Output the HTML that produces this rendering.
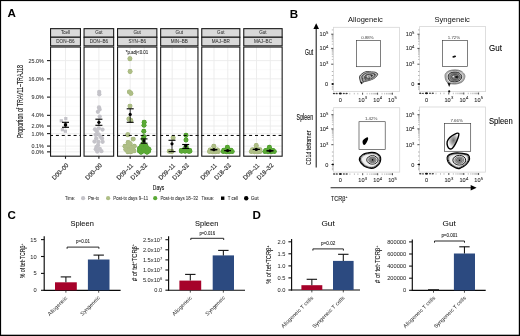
<!DOCTYPE html>
<html><head><meta charset="utf-8"><title>Figure</title>
<style>
html,body{margin:0;padding:0;background:#fff;width:520px;height:336px;overflow:hidden;}
svg{display:block;will-change:transform;font-family:"Liberation Sans",sans-serif;}
</style></head><body>
<svg width="520" height="336" viewBox="0 0 520 336">
<rect x="0" y="0" width="520" height="336" fill="#fff"/>
<rect x="0" y="0" width="520" height="1.1" fill="#000"/>
<rect x="0" y="0" width="1.1" height="336" fill="#000"/>
<rect x="518.8" y="0" width="1.2" height="336" fill="#000"/>
<rect x="0" y="334.7" width="520" height="1.3" fill="#000"/>
<text x="7.50" y="16.90" font-size="11.6" text-anchor="start" fill="#000" font-weight="bold" >A</text>
<text x="289.70" y="17.80" font-size="11.6" text-anchor="start" fill="#000" font-weight="bold" >B</text>
<text x="7.50" y="219.20" font-size="11.6" text-anchor="start" fill="#000" font-weight="bold" >C</text>
<text x="252.50" y="219.10" font-size="11.6" text-anchor="start" fill="#000" font-weight="bold" >D</text>
<rect x="50.0" y="47.05" width="31.00" height="109.15" fill="#fff"/>
<line x1="50.0" x2="81.0" y1="69.72" y2="69.72" stroke="#f4f4f4" stroke-width="0.5"/>
<line x1="50.0" x2="81.0" y1="87.97" y2="87.97" stroke="#f4f4f4" stroke-width="0.5"/>
<line x1="50.0" x2="81.0" y1="106.22" y2="106.22" stroke="#f4f4f4" stroke-width="0.5"/>
<line x1="50.0" x2="81.0" y1="120.70" y2="120.70" stroke="#f4f4f4" stroke-width="0.5"/>
<line x1="50.0" x2="81.0" y1="129.82" y2="129.82" stroke="#f4f4f4" stroke-width="0.5"/>
<line x1="50.0" x2="81.0" y1="139.84" y2="139.84" stroke="#f4f4f4" stroke-width="0.5"/>
<line x1="50.0" x2="81.0" y1="148.96" y2="148.96" stroke="#f4f4f4" stroke-width="0.5"/>
<line x1="50.0" x2="81.0" y1="60.60" y2="60.60" stroke="#ebebeb" stroke-width="0.9"/>
<line x1="50.0" x2="81.0" y1="78.85" y2="78.85" stroke="#ebebeb" stroke-width="0.9"/>
<line x1="50.0" x2="81.0" y1="97.10" y2="97.10" stroke="#ebebeb" stroke-width="0.9"/>
<line x1="50.0" x2="81.0" y1="115.35" y2="115.35" stroke="#ebebeb" stroke-width="0.9"/>
<line x1="50.0" x2="81.0" y1="126.04" y2="126.04" stroke="#ebebeb" stroke-width="0.9"/>
<line x1="50.0" x2="81.0" y1="133.60" y2="133.60" stroke="#ebebeb" stroke-width="0.9"/>
<line x1="50.0" x2="81.0" y1="146.08" y2="146.08" stroke="#ebebeb" stroke-width="0.9"/>
<line x1="50.0" x2="81.0" y1="151.85" y2="151.85" stroke="#ebebeb" stroke-width="0.9"/>
<line x1="65.5" x2="65.5" y1="47.05" y2="156.2" stroke="#ebebeb" stroke-width="0.9"/>
<line x1="50.0" x2="81.0" y1="135.45" y2="135.45" stroke="#000" stroke-width="1.0" stroke-dasharray="3.0 2.9"/>
<rect x="83.5" y="47.05" width="30.70" height="109.15" fill="#fff"/>
<line x1="83.5" x2="114.2" y1="69.72" y2="69.72" stroke="#f4f4f4" stroke-width="0.5"/>
<line x1="83.5" x2="114.2" y1="87.97" y2="87.97" stroke="#f4f4f4" stroke-width="0.5"/>
<line x1="83.5" x2="114.2" y1="106.22" y2="106.22" stroke="#f4f4f4" stroke-width="0.5"/>
<line x1="83.5" x2="114.2" y1="120.70" y2="120.70" stroke="#f4f4f4" stroke-width="0.5"/>
<line x1="83.5" x2="114.2" y1="129.82" y2="129.82" stroke="#f4f4f4" stroke-width="0.5"/>
<line x1="83.5" x2="114.2" y1="139.84" y2="139.84" stroke="#f4f4f4" stroke-width="0.5"/>
<line x1="83.5" x2="114.2" y1="148.96" y2="148.96" stroke="#f4f4f4" stroke-width="0.5"/>
<line x1="83.5" x2="114.2" y1="60.60" y2="60.60" stroke="#ebebeb" stroke-width="0.9"/>
<line x1="83.5" x2="114.2" y1="78.85" y2="78.85" stroke="#ebebeb" stroke-width="0.9"/>
<line x1="83.5" x2="114.2" y1="97.10" y2="97.10" stroke="#ebebeb" stroke-width="0.9"/>
<line x1="83.5" x2="114.2" y1="115.35" y2="115.35" stroke="#ebebeb" stroke-width="0.9"/>
<line x1="83.5" x2="114.2" y1="126.04" y2="126.04" stroke="#ebebeb" stroke-width="0.9"/>
<line x1="83.5" x2="114.2" y1="133.60" y2="133.60" stroke="#ebebeb" stroke-width="0.9"/>
<line x1="83.5" x2="114.2" y1="146.08" y2="146.08" stroke="#ebebeb" stroke-width="0.9"/>
<line x1="83.5" x2="114.2" y1="151.85" y2="151.85" stroke="#ebebeb" stroke-width="0.9"/>
<line x1="98.9" x2="98.9" y1="47.05" y2="156.2" stroke="#ebebeb" stroke-width="0.9"/>
<line x1="83.5" x2="114.2" y1="135.45" y2="135.45" stroke="#000" stroke-width="1.0" stroke-dasharray="3.0 2.9"/>
<rect x="117.0" y="47.05" width="40.40" height="109.15" fill="#fff"/>
<line x1="117.0" x2="157.4" y1="69.72" y2="69.72" stroke="#f4f4f4" stroke-width="0.5"/>
<line x1="117.0" x2="157.4" y1="87.97" y2="87.97" stroke="#f4f4f4" stroke-width="0.5"/>
<line x1="117.0" x2="157.4" y1="106.22" y2="106.22" stroke="#f4f4f4" stroke-width="0.5"/>
<line x1="117.0" x2="157.4" y1="120.70" y2="120.70" stroke="#f4f4f4" stroke-width="0.5"/>
<line x1="117.0" x2="157.4" y1="129.82" y2="129.82" stroke="#f4f4f4" stroke-width="0.5"/>
<line x1="117.0" x2="157.4" y1="139.84" y2="139.84" stroke="#f4f4f4" stroke-width="0.5"/>
<line x1="117.0" x2="157.4" y1="148.96" y2="148.96" stroke="#f4f4f4" stroke-width="0.5"/>
<line x1="117.0" x2="157.4" y1="60.60" y2="60.60" stroke="#ebebeb" stroke-width="0.9"/>
<line x1="117.0" x2="157.4" y1="78.85" y2="78.85" stroke="#ebebeb" stroke-width="0.9"/>
<line x1="117.0" x2="157.4" y1="97.10" y2="97.10" stroke="#ebebeb" stroke-width="0.9"/>
<line x1="117.0" x2="157.4" y1="115.35" y2="115.35" stroke="#ebebeb" stroke-width="0.9"/>
<line x1="117.0" x2="157.4" y1="126.04" y2="126.04" stroke="#ebebeb" stroke-width="0.9"/>
<line x1="117.0" x2="157.4" y1="133.60" y2="133.60" stroke="#ebebeb" stroke-width="0.9"/>
<line x1="117.0" x2="157.4" y1="146.08" y2="146.08" stroke="#ebebeb" stroke-width="0.9"/>
<line x1="117.0" x2="157.4" y1="151.85" y2="151.85" stroke="#ebebeb" stroke-width="0.9"/>
<line x1="130.2" x2="130.2" y1="47.05" y2="156.2" stroke="#ebebeb" stroke-width="0.9"/>
<line x1="144.2" x2="144.2" y1="47.05" y2="156.2" stroke="#ebebeb" stroke-width="0.9"/>
<rect x="160.1" y="47.05" width="38.40" height="109.15" fill="#fff"/>
<line x1="160.1" x2="198.5" y1="69.72" y2="69.72" stroke="#f4f4f4" stroke-width="0.5"/>
<line x1="160.1" x2="198.5" y1="87.97" y2="87.97" stroke="#f4f4f4" stroke-width="0.5"/>
<line x1="160.1" x2="198.5" y1="106.22" y2="106.22" stroke="#f4f4f4" stroke-width="0.5"/>
<line x1="160.1" x2="198.5" y1="120.70" y2="120.70" stroke="#f4f4f4" stroke-width="0.5"/>
<line x1="160.1" x2="198.5" y1="129.82" y2="129.82" stroke="#f4f4f4" stroke-width="0.5"/>
<line x1="160.1" x2="198.5" y1="139.84" y2="139.84" stroke="#f4f4f4" stroke-width="0.5"/>
<line x1="160.1" x2="198.5" y1="148.96" y2="148.96" stroke="#f4f4f4" stroke-width="0.5"/>
<line x1="160.1" x2="198.5" y1="60.60" y2="60.60" stroke="#ebebeb" stroke-width="0.9"/>
<line x1="160.1" x2="198.5" y1="78.85" y2="78.85" stroke="#ebebeb" stroke-width="0.9"/>
<line x1="160.1" x2="198.5" y1="97.10" y2="97.10" stroke="#ebebeb" stroke-width="0.9"/>
<line x1="160.1" x2="198.5" y1="115.35" y2="115.35" stroke="#ebebeb" stroke-width="0.9"/>
<line x1="160.1" x2="198.5" y1="126.04" y2="126.04" stroke="#ebebeb" stroke-width="0.9"/>
<line x1="160.1" x2="198.5" y1="133.60" y2="133.60" stroke="#ebebeb" stroke-width="0.9"/>
<line x1="160.1" x2="198.5" y1="146.08" y2="146.08" stroke="#ebebeb" stroke-width="0.9"/>
<line x1="160.1" x2="198.5" y1="151.85" y2="151.85" stroke="#ebebeb" stroke-width="0.9"/>
<line x1="172.2" x2="172.2" y1="47.05" y2="156.2" stroke="#ebebeb" stroke-width="0.9"/>
<line x1="185.8" x2="185.8" y1="47.05" y2="156.2" stroke="#ebebeb" stroke-width="0.9"/>
<rect x="201.2" y="47.05" width="39.20" height="109.15" fill="#fff"/>
<line x1="201.2" x2="240.4" y1="69.72" y2="69.72" stroke="#f4f4f4" stroke-width="0.5"/>
<line x1="201.2" x2="240.4" y1="87.97" y2="87.97" stroke="#f4f4f4" stroke-width="0.5"/>
<line x1="201.2" x2="240.4" y1="106.22" y2="106.22" stroke="#f4f4f4" stroke-width="0.5"/>
<line x1="201.2" x2="240.4" y1="120.70" y2="120.70" stroke="#f4f4f4" stroke-width="0.5"/>
<line x1="201.2" x2="240.4" y1="129.82" y2="129.82" stroke="#f4f4f4" stroke-width="0.5"/>
<line x1="201.2" x2="240.4" y1="139.84" y2="139.84" stroke="#f4f4f4" stroke-width="0.5"/>
<line x1="201.2" x2="240.4" y1="148.96" y2="148.96" stroke="#f4f4f4" stroke-width="0.5"/>
<line x1="201.2" x2="240.4" y1="60.60" y2="60.60" stroke="#ebebeb" stroke-width="0.9"/>
<line x1="201.2" x2="240.4" y1="78.85" y2="78.85" stroke="#ebebeb" stroke-width="0.9"/>
<line x1="201.2" x2="240.4" y1="97.10" y2="97.10" stroke="#ebebeb" stroke-width="0.9"/>
<line x1="201.2" x2="240.4" y1="115.35" y2="115.35" stroke="#ebebeb" stroke-width="0.9"/>
<line x1="201.2" x2="240.4" y1="126.04" y2="126.04" stroke="#ebebeb" stroke-width="0.9"/>
<line x1="201.2" x2="240.4" y1="133.60" y2="133.60" stroke="#ebebeb" stroke-width="0.9"/>
<line x1="201.2" x2="240.4" y1="146.08" y2="146.08" stroke="#ebebeb" stroke-width="0.9"/>
<line x1="201.2" x2="240.4" y1="151.85" y2="151.85" stroke="#ebebeb" stroke-width="0.9"/>
<line x1="214.0" x2="214.0" y1="47.05" y2="156.2" stroke="#ebebeb" stroke-width="0.9"/>
<line x1="227.8" x2="227.8" y1="47.05" y2="156.2" stroke="#ebebeb" stroke-width="0.9"/>
<rect x="243.2" y="47.05" width="39.50" height="109.15" fill="#fff"/>
<line x1="243.2" x2="282.7" y1="69.72" y2="69.72" stroke="#f4f4f4" stroke-width="0.5"/>
<line x1="243.2" x2="282.7" y1="87.97" y2="87.97" stroke="#f4f4f4" stroke-width="0.5"/>
<line x1="243.2" x2="282.7" y1="106.22" y2="106.22" stroke="#f4f4f4" stroke-width="0.5"/>
<line x1="243.2" x2="282.7" y1="120.70" y2="120.70" stroke="#f4f4f4" stroke-width="0.5"/>
<line x1="243.2" x2="282.7" y1="129.82" y2="129.82" stroke="#f4f4f4" stroke-width="0.5"/>
<line x1="243.2" x2="282.7" y1="139.84" y2="139.84" stroke="#f4f4f4" stroke-width="0.5"/>
<line x1="243.2" x2="282.7" y1="148.96" y2="148.96" stroke="#f4f4f4" stroke-width="0.5"/>
<line x1="243.2" x2="282.7" y1="60.60" y2="60.60" stroke="#ebebeb" stroke-width="0.9"/>
<line x1="243.2" x2="282.7" y1="78.85" y2="78.85" stroke="#ebebeb" stroke-width="0.9"/>
<line x1="243.2" x2="282.7" y1="97.10" y2="97.10" stroke="#ebebeb" stroke-width="0.9"/>
<line x1="243.2" x2="282.7" y1="115.35" y2="115.35" stroke="#ebebeb" stroke-width="0.9"/>
<line x1="243.2" x2="282.7" y1="126.04" y2="126.04" stroke="#ebebeb" stroke-width="0.9"/>
<line x1="243.2" x2="282.7" y1="133.60" y2="133.60" stroke="#ebebeb" stroke-width="0.9"/>
<line x1="243.2" x2="282.7" y1="146.08" y2="146.08" stroke="#ebebeb" stroke-width="0.9"/>
<line x1="243.2" x2="282.7" y1="151.85" y2="151.85" stroke="#ebebeb" stroke-width="0.9"/>
<line x1="256.5" x2="256.5" y1="47.05" y2="156.2" stroke="#ebebeb" stroke-width="0.9"/>
<line x1="270.3" x2="270.3" y1="47.05" y2="156.2" stroke="#ebebeb" stroke-width="0.9"/>
<rect x="64.20" y="117.00" width="3.2" height="3.2" fill="#c4c3c9"/>
<rect x="59.70" y="119.20" width="3.2" height="3.2" fill="#c4c3c9"/>
<rect x="60.80" y="128.10" width="3.2" height="3.2" fill="#c4c3c9"/>
<rect x="63.80" y="129.60" width="3.2" height="3.2" fill="#c4c3c9"/>
<circle cx="99.2" cy="92.0" r="2.15" fill="#c4c3c9"/>
<circle cx="99.3" cy="94.3" r="2.15" fill="#c4c3c9"/>
<circle cx="99.0" cy="107.4" r="2.15" fill="#c4c3c9"/>
<circle cx="99.6" cy="109.4" r="2.15" fill="#c4c3c9"/>
<circle cx="97.9" cy="111.8" r="2.15" fill="#c4c3c9"/>
<circle cx="99.7" cy="116.6" r="2.15" fill="#c4c3c9"/>
<circle cx="95.0" cy="129.3" r="2.15" fill="#c4c3c9"/>
<circle cx="98.8" cy="128.3" r="2.15" fill="#c4c3c9"/>
<circle cx="102.5" cy="129.6" r="2.15" fill="#c4c3c9"/>
<circle cx="96.8" cy="131.2" r="2.15" fill="#c4c3c9"/>
<circle cx="95.6" cy="134.8" r="2.15" fill="#c4c3c9"/>
<circle cx="98.6" cy="134.3" r="2.15" fill="#c4c3c9"/>
<circle cx="100.6" cy="136.8" r="2.15" fill="#c4c3c9"/>
<circle cx="102.0" cy="138.5" r="2.15" fill="#c4c3c9"/>
<circle cx="96.2" cy="138.5" r="2.15" fill="#c4c3c9"/>
<circle cx="94.5" cy="141.6" r="2.15" fill="#c4c3c9"/>
<circle cx="98.4" cy="142.0" r="2.15" fill="#c4c3c9"/>
<circle cx="102.6" cy="141.8" r="2.15" fill="#c4c3c9"/>
<circle cx="98.0" cy="145.2" r="2.15" fill="#c4c3c9"/>
<circle cx="95.8" cy="149.2" r="2.15" fill="#c4c3c9"/>
<circle cx="99.8" cy="148.8" r="2.15" fill="#c4c3c9"/>
<circle cx="101.4" cy="151.2" r="2.15" fill="#c4c3c9"/>
<circle cx="97.2" cy="151.5" r="2.15" fill="#c4c3c9"/>
<circle cx="96.5" cy="147.0" r="2.15" fill="#c4c3c9"/>
<circle cx="129.9" cy="58.7" r="2.45" fill="#9aad70"/>
<circle cx="130.1" cy="71.5" r="2.45" fill="#9aad70"/>
<circle cx="129.4" cy="91.9" r="2.45" fill="#9aad70"/>
<circle cx="130.9" cy="93.4" r="2.45" fill="#9aad70"/>
<circle cx="130.0" cy="106.1" r="2.45" fill="#9aad70"/>
<circle cx="128.9" cy="119.0" r="2.45" fill="#9aad70"/>
<circle cx="130.8" cy="120.5" r="2.45" fill="#9aad70"/>
<circle cx="127.8" cy="134.7" r="2.45" fill="#9aad70"/>
<circle cx="133.2" cy="139.1" r="2.45" fill="#9aad70"/>
<circle cx="128.1" cy="142.4" r="2.45" fill="#9aad70"/>
<circle cx="130.1" cy="143.6" r="2.45" fill="#9aad70"/>
<circle cx="125.0" cy="146.3" r="2.45" fill="#9aad70"/>
<circle cx="128.1" cy="145.9" r="2.45" fill="#9aad70"/>
<circle cx="134.3" cy="146.3" r="2.45" fill="#9aad70"/>
<circle cx="131.5" cy="147.5" r="2.45" fill="#9aad70"/>
<circle cx="125.8" cy="149.4" r="2.45" fill="#9aad70"/>
<circle cx="128.9" cy="150.2" r="2.45" fill="#9aad70"/>
<circle cx="132.4" cy="149.8" r="2.45" fill="#9aad70"/>
<circle cx="127.8" cy="151.7" r="2.45" fill="#9aad70"/>
<circle cx="130.9" cy="151.7" r="2.45" fill="#9aad70"/>
<circle cx="134.0" cy="150.9" r="2.45" fill="#9aad70"/>
<circle cx="129.9" cy="58.7" r="2.15" fill="#aebe86"/>
<circle cx="130.1" cy="71.5" r="2.15" fill="#aebe86"/>
<circle cx="129.4" cy="91.9" r="2.15" fill="#aebe86"/>
<circle cx="130.9" cy="93.4" r="2.15" fill="#aebe86"/>
<circle cx="130.0" cy="106.1" r="2.15" fill="#aebe86"/>
<circle cx="128.9" cy="119.0" r="2.15" fill="#aebe86"/>
<circle cx="130.8" cy="120.5" r="2.15" fill="#aebe86"/>
<circle cx="127.8" cy="134.7" r="2.15" fill="#aebe86"/>
<circle cx="133.2" cy="139.1" r="2.15" fill="#aebe86"/>
<circle cx="128.1" cy="142.4" r="2.15" fill="#aebe86"/>
<circle cx="130.1" cy="143.6" r="2.15" fill="#aebe86"/>
<circle cx="125.0" cy="146.3" r="2.15" fill="#aebe86"/>
<circle cx="128.1" cy="145.9" r="2.15" fill="#aebe86"/>
<circle cx="134.3" cy="146.3" r="2.15" fill="#aebe86"/>
<circle cx="131.5" cy="147.5" r="2.15" fill="#aebe86"/>
<circle cx="125.8" cy="149.4" r="2.15" fill="#aebe86"/>
<circle cx="128.9" cy="150.2" r="2.15" fill="#aebe86"/>
<circle cx="132.4" cy="149.8" r="2.15" fill="#aebe86"/>
<circle cx="127.8" cy="151.7" r="2.15" fill="#aebe86"/>
<circle cx="130.9" cy="151.7" r="2.15" fill="#aebe86"/>
<circle cx="134.0" cy="150.9" r="2.15" fill="#aebe86"/>
<circle cx="144.2" cy="122.2" r="2.45" fill="#3f8f22"/>
<circle cx="144.0" cy="125.2" r="2.45" fill="#3f8f22"/>
<circle cx="143.8" cy="131.3" r="2.45" fill="#3f8f22"/>
<circle cx="144.0" cy="136.6" r="2.45" fill="#3f8f22"/>
<circle cx="143.4" cy="139.0" r="2.45" fill="#3f8f22"/>
<circle cx="143.5" cy="143.5" r="2.45" fill="#3f8f22"/>
<circle cx="141.5" cy="146.0" r="2.45" fill="#3f8f22"/>
<circle cx="146.0" cy="146.0" r="2.45" fill="#3f8f22"/>
<circle cx="139.5" cy="148.5" r="2.45" fill="#3f8f22"/>
<circle cx="143.5" cy="148.5" r="2.45" fill="#3f8f22"/>
<circle cx="147.5" cy="148.5" r="2.45" fill="#3f8f22"/>
<circle cx="149.0" cy="149.5" r="2.45" fill="#3f8f22"/>
<circle cx="139.5" cy="151.0" r="2.45" fill="#3f8f22"/>
<circle cx="142.5" cy="151.2" r="2.45" fill="#3f8f22"/>
<circle cx="145.5" cy="151.2" r="2.45" fill="#3f8f22"/>
<circle cx="148.5" cy="151.2" r="2.45" fill="#3f8f22"/>
<circle cx="141.0" cy="152.3" r="2.45" fill="#3f8f22"/>
<circle cx="147.0" cy="152.3" r="2.45" fill="#3f8f22"/>
<circle cx="144.2" cy="122.2" r="2.15" fill="#5aa935"/>
<circle cx="144.0" cy="125.2" r="2.15" fill="#5aa935"/>
<circle cx="143.8" cy="131.3" r="2.15" fill="#5aa935"/>
<circle cx="144.0" cy="136.6" r="2.15" fill="#5aa935"/>
<circle cx="143.4" cy="139.0" r="2.15" fill="#5aa935"/>
<circle cx="143.5" cy="143.5" r="2.15" fill="#5aa935"/>
<circle cx="141.5" cy="146.0" r="2.15" fill="#5aa935"/>
<circle cx="146.0" cy="146.0" r="2.15" fill="#5aa935"/>
<circle cx="139.5" cy="148.5" r="2.15" fill="#5aa935"/>
<circle cx="143.5" cy="148.5" r="2.15" fill="#5aa935"/>
<circle cx="147.5" cy="148.5" r="2.15" fill="#5aa935"/>
<circle cx="149.0" cy="149.5" r="2.15" fill="#5aa935"/>
<circle cx="139.5" cy="151.0" r="2.15" fill="#5aa935"/>
<circle cx="142.5" cy="151.2" r="2.15" fill="#5aa935"/>
<circle cx="145.5" cy="151.2" r="2.15" fill="#5aa935"/>
<circle cx="148.5" cy="151.2" r="2.15" fill="#5aa935"/>
<circle cx="141.0" cy="152.3" r="2.15" fill="#5aa935"/>
<circle cx="147.0" cy="152.3" r="2.15" fill="#5aa935"/>
<circle cx="173.1" cy="137.7" r="2.45" fill="#9aad70"/>
<circle cx="169.3" cy="151.2" r="2.45" fill="#9aad70"/>
<circle cx="171.8" cy="151.5" r="2.45" fill="#9aad70"/>
<circle cx="173.1" cy="137.7" r="2.15" fill="#aebe86"/>
<circle cx="169.3" cy="151.2" r="2.15" fill="#aebe86"/>
<circle cx="171.8" cy="151.5" r="2.15" fill="#aebe86"/>
<circle cx="186.0" cy="135.3" r="2.45" fill="#3f8f22"/>
<circle cx="186.0" cy="140.0" r="2.45" fill="#3f8f22"/>
<circle cx="181.3" cy="150.4" r="2.45" fill="#3f8f22"/>
<circle cx="184.5" cy="149.6" r="2.45" fill="#3f8f22"/>
<circle cx="187.5" cy="149.6" r="2.45" fill="#3f8f22"/>
<circle cx="189.7" cy="150.4" r="2.45" fill="#3f8f22"/>
<circle cx="181.5" cy="151.2" r="2.45" fill="#3f8f22"/>
<circle cx="185.0" cy="151.2" r="2.45" fill="#3f8f22"/>
<circle cx="188.5" cy="151.2" r="2.45" fill="#3f8f22"/>
<circle cx="189.8" cy="151.2" r="2.45" fill="#3f8f22"/>
<circle cx="186.0" cy="146.5" r="2.45" fill="#3f8f22"/>
<circle cx="186.0" cy="135.3" r="2.15" fill="#5aa935"/>
<circle cx="186.0" cy="140.0" r="2.15" fill="#5aa935"/>
<circle cx="181.3" cy="150.4" r="2.15" fill="#5aa935"/>
<circle cx="184.5" cy="149.6" r="2.15" fill="#5aa935"/>
<circle cx="187.5" cy="149.6" r="2.15" fill="#5aa935"/>
<circle cx="189.7" cy="150.4" r="2.15" fill="#5aa935"/>
<circle cx="181.5" cy="151.2" r="2.15" fill="#5aa935"/>
<circle cx="185.0" cy="151.2" r="2.15" fill="#5aa935"/>
<circle cx="188.5" cy="151.2" r="2.15" fill="#5aa935"/>
<circle cx="189.8" cy="151.2" r="2.15" fill="#5aa935"/>
<circle cx="186.0" cy="146.5" r="2.15" fill="#5aa935"/>
<circle cx="213.8" cy="146.3" r="2.45" fill="#9aad70"/>
<circle cx="210.2" cy="150.0" r="2.45" fill="#9aad70"/>
<circle cx="213.8" cy="149.5" r="2.45" fill="#9aad70"/>
<circle cx="217.4" cy="150.0" r="2.45" fill="#9aad70"/>
<circle cx="209.5" cy="151.6" r="2.45" fill="#9aad70"/>
<circle cx="212.5" cy="151.8" r="2.45" fill="#9aad70"/>
<circle cx="215.5" cy="151.8" r="2.45" fill="#9aad70"/>
<circle cx="218.3" cy="151.6" r="2.45" fill="#9aad70"/>
<circle cx="213.8" cy="146.3" r="2.15" fill="#aebe86"/>
<circle cx="210.2" cy="150.0" r="2.15" fill="#aebe86"/>
<circle cx="213.8" cy="149.5" r="2.15" fill="#aebe86"/>
<circle cx="217.4" cy="150.0" r="2.15" fill="#aebe86"/>
<circle cx="209.5" cy="151.6" r="2.15" fill="#aebe86"/>
<circle cx="212.5" cy="151.8" r="2.15" fill="#aebe86"/>
<circle cx="215.5" cy="151.8" r="2.15" fill="#aebe86"/>
<circle cx="218.3" cy="151.6" r="2.15" fill="#aebe86"/>
<circle cx="227.4" cy="147.2" r="2.45" fill="#3f8f22"/>
<circle cx="223.8" cy="150.2" r="2.45" fill="#3f8f22"/>
<circle cx="227.4" cy="149.8" r="2.45" fill="#3f8f22"/>
<circle cx="231.0" cy="150.2" r="2.45" fill="#3f8f22"/>
<circle cx="223.3" cy="151.6" r="2.45" fill="#3f8f22"/>
<circle cx="226.3" cy="151.8" r="2.45" fill="#3f8f22"/>
<circle cx="229.3" cy="151.8" r="2.45" fill="#3f8f22"/>
<circle cx="232.2" cy="151.6" r="2.45" fill="#3f8f22"/>
<circle cx="227.4" cy="147.2" r="2.15" fill="#5aa935"/>
<circle cx="223.8" cy="150.2" r="2.15" fill="#5aa935"/>
<circle cx="227.4" cy="149.8" r="2.15" fill="#5aa935"/>
<circle cx="231.0" cy="150.2" r="2.15" fill="#5aa935"/>
<circle cx="223.3" cy="151.6" r="2.15" fill="#5aa935"/>
<circle cx="226.3" cy="151.8" r="2.15" fill="#5aa935"/>
<circle cx="229.3" cy="151.8" r="2.15" fill="#5aa935"/>
<circle cx="232.2" cy="151.6" r="2.15" fill="#5aa935"/>
<circle cx="256.2" cy="145.4" r="2.45" fill="#9aad70"/>
<circle cx="256.2" cy="147.6" r="2.45" fill="#9aad70"/>
<circle cx="252.4" cy="149.8" r="2.45" fill="#9aad70"/>
<circle cx="256.2" cy="149.4" r="2.45" fill="#9aad70"/>
<circle cx="259.9" cy="149.8" r="2.45" fill="#9aad70"/>
<circle cx="251.3" cy="151.6" r="2.45" fill="#9aad70"/>
<circle cx="254.5" cy="151.8" r="2.45" fill="#9aad70"/>
<circle cx="257.8" cy="151.8" r="2.45" fill="#9aad70"/>
<circle cx="260.0" cy="151.6" r="2.45" fill="#9aad70"/>
<circle cx="256.2" cy="145.4" r="2.15" fill="#aebe86"/>
<circle cx="256.2" cy="147.6" r="2.15" fill="#aebe86"/>
<circle cx="252.4" cy="149.8" r="2.15" fill="#aebe86"/>
<circle cx="256.2" cy="149.4" r="2.15" fill="#aebe86"/>
<circle cx="259.9" cy="149.8" r="2.15" fill="#aebe86"/>
<circle cx="251.3" cy="151.6" r="2.15" fill="#aebe86"/>
<circle cx="254.5" cy="151.8" r="2.15" fill="#aebe86"/>
<circle cx="257.8" cy="151.8" r="2.15" fill="#aebe86"/>
<circle cx="260.0" cy="151.6" r="2.15" fill="#aebe86"/>
<circle cx="269.4" cy="147.3" r="2.45" fill="#3f8f22"/>
<circle cx="265.8" cy="150.4" r="2.45" fill="#3f8f22"/>
<circle cx="269.4" cy="150.0" r="2.45" fill="#3f8f22"/>
<circle cx="273.0" cy="150.4" r="2.45" fill="#3f8f22"/>
<circle cx="264.9" cy="151.6" r="2.45" fill="#3f8f22"/>
<circle cx="268.0" cy="151.8" r="2.45" fill="#3f8f22"/>
<circle cx="271.2" cy="151.8" r="2.45" fill="#3f8f22"/>
<circle cx="274.3" cy="151.6" r="2.45" fill="#3f8f22"/>
<circle cx="269.4" cy="147.3" r="2.15" fill="#5aa935"/>
<circle cx="265.8" cy="150.4" r="2.15" fill="#5aa935"/>
<circle cx="269.4" cy="150.0" r="2.15" fill="#5aa935"/>
<circle cx="273.0" cy="150.4" r="2.15" fill="#5aa935"/>
<circle cx="264.9" cy="151.6" r="2.15" fill="#5aa935"/>
<circle cx="268.0" cy="151.8" r="2.15" fill="#5aa935"/>
<circle cx="271.2" cy="151.8" r="2.15" fill="#5aa935"/>
<circle cx="274.3" cy="151.6" r="2.15" fill="#5aa935"/>
<line x1="117.0" x2="157.4" y1="135.45" y2="135.45" stroke="#000" stroke-width="1.0" stroke-dasharray="3.0 2.9"/>
<line x1="160.1" x2="198.5" y1="135.45" y2="135.45" stroke="#000" stroke-width="1.0" stroke-dasharray="3.0 2.9"/>
<line x1="201.2" x2="240.4" y1="135.45" y2="135.45" stroke="#000" stroke-width="1.0" stroke-dasharray="3.0 2.9"/>
<line x1="243.2" x2="282.7" y1="135.45" y2="135.45" stroke="#000" stroke-width="1.0" stroke-dasharray="3.0 2.9"/>
<line x1="65.5" x2="65.5" y1="122.3" y2="127.3" stroke="#000" stroke-width="0.8"/>
<line x1="62.00" x2="69.00" y1="122.3" y2="122.3" stroke="#000" stroke-width="1.1"/>
<line x1="62.00" x2="69.00" y1="127.3" y2="127.3" stroke="#000" stroke-width="1.1"/>
<rect x="63.90" y="123.30" width="3.2" height="3.2" fill="#000"/>
<line x1="98.9" x2="98.9" y1="119.2" y2="125.3" stroke="#000" stroke-width="0.8"/>
<line x1="95.40" x2="102.40" y1="119.2" y2="119.2" stroke="#000" stroke-width="1.1"/>
<line x1="95.40" x2="102.40" y1="125.3" y2="125.3" stroke="#000" stroke-width="1.1"/>
<circle cx="98.9" cy="122.3" r="1.6" fill="#000"/>
<line x1="130.2" x2="130.2" y1="108.8" y2="122.3" stroke="#000" stroke-width="0.8"/>
<line x1="126.70" x2="133.70" y1="108.8" y2="108.8" stroke="#000" stroke-width="1.1"/>
<line x1="126.70" x2="133.70" y1="122.3" y2="122.3" stroke="#000" stroke-width="1.1"/>
<circle cx="130.2" cy="114.4" r="1.6" fill="#000"/>
<line x1="144.0" x2="144.0" y1="138.9" y2="143.2" stroke="#000" stroke-width="0.8"/>
<line x1="140.50" x2="147.50" y1="138.9" y2="138.9" stroke="#000" stroke-width="1.1"/>
<line x1="140.50" x2="147.50" y1="143.2" y2="143.2" stroke="#000" stroke-width="1.1"/>
<circle cx="144.0" cy="140.9" r="1.6" fill="#000"/>
<line x1="172.0" x2="172.0" y1="140.3" y2="151.6" stroke="#000" stroke-width="0.8"/>
<line x1="168.50" x2="175.50" y1="140.3" y2="140.3" stroke="#000" stroke-width="1.1"/>
<line x1="168.50" x2="175.50" y1="151.6" y2="151.6" stroke="#000" stroke-width="1.1"/>
<circle cx="172.0" cy="143.8" r="1.6" fill="#000"/>
<line x1="185.7" x2="185.7" y1="144.5" y2="148.4" stroke="#000" stroke-width="0.8"/>
<line x1="182.20" x2="189.20" y1="144.5" y2="144.5" stroke="#000" stroke-width="1.1"/>
<line x1="182.20" x2="189.20" y1="148.4" y2="148.4" stroke="#000" stroke-width="1.1"/>
<circle cx="185.7" cy="145.9" r="1.6" fill="#000"/>
<line x1="213.9" x2="213.9" y1="149.7" y2="149.7" stroke="#000" stroke-width="0.8"/>
<line x1="210.55" x2="217.25" y1="149.7" y2="149.7" stroke="#000" stroke-width="1.1"/>
<line x1="210.55" x2="217.25" y1="149.7" y2="149.7" stroke="#000" stroke-width="1.1"/>
<circle cx="213.9" cy="149.7" r="1.6" fill="#000"/>
<line x1="227.6" x2="227.6" y1="150.6" y2="150.6" stroke="#000" stroke-width="0.8"/>
<line x1="224.35" x2="230.85" y1="150.6" y2="150.6" stroke="#000" stroke-width="1.1"/>
<line x1="224.35" x2="230.85" y1="150.6" y2="150.6" stroke="#000" stroke-width="1.1"/>
<circle cx="227.6" cy="150.6" r="1.6" fill="#000"/>
<line x1="256.3" x2="256.3" y1="149.4" y2="149.4" stroke="#000" stroke-width="0.8"/>
<line x1="252.80" x2="259.80" y1="149.4" y2="149.4" stroke="#000" stroke-width="1.1"/>
<line x1="252.80" x2="259.80" y1="149.4" y2="149.4" stroke="#000" stroke-width="1.1"/>
<circle cx="256.3" cy="149.4" r="1.6" fill="#000"/>
<line x1="270.0" x2="270.0" y1="150.8" y2="150.8" stroke="#000" stroke-width="0.8"/>
<line x1="266.60" x2="273.40" y1="150.8" y2="150.8" stroke="#000" stroke-width="1.1"/>
<line x1="266.60" x2="273.40" y1="150.8" y2="150.8" stroke="#000" stroke-width="1.1"/>
<circle cx="270.0" cy="150.8" r="1.6" fill="#000"/>
<rect x="50.55" y="47.05" width="29.90" height="109.15" fill="none" stroke="#1a1a1a" stroke-width="1.1"/>
<rect x="50.55" y="28.65" width="29.90" height="8.6" fill="#d9d9d9" stroke="#1a1a1a" stroke-width="1.1"/>
<rect x="50.55" y="37.25" width="29.90" height="8.6" fill="#d9d9d9" stroke="#1a1a1a" stroke-width="1.1"/>
<text x="65.50" y="34.40" font-size="4.6" text-anchor="middle" fill="#2a2a2a" stroke="#2a2a2a" stroke-width="0.03" >Tcell</text>
<text x="65.50" y="43.30" font-size="4.6" text-anchor="middle" fill="#2a2a2a" stroke="#2a2a2a" stroke-width="0.03" >DON–B6</text>
<line x1="65.5" x2="65.5" y1="156.2" y2="158.80" stroke="#1a1a1a" stroke-width="1.1"/>
<rect x="84.05" y="47.05" width="29.60" height="109.15" fill="none" stroke="#1a1a1a" stroke-width="1.1"/>
<rect x="84.05" y="28.65" width="29.60" height="8.6" fill="#d9d9d9" stroke="#1a1a1a" stroke-width="1.1"/>
<rect x="84.05" y="37.25" width="29.60" height="8.6" fill="#d9d9d9" stroke="#1a1a1a" stroke-width="1.1"/>
<text x="98.85" y="34.40" font-size="4.6" text-anchor="middle" fill="#2a2a2a" stroke="#2a2a2a" stroke-width="0.03" >Gut</text>
<text x="98.85" y="43.30" font-size="4.6" text-anchor="middle" fill="#2a2a2a" stroke="#2a2a2a" stroke-width="0.03" >DON–B6</text>
<line x1="98.9" x2="98.9" y1="156.2" y2="158.80" stroke="#1a1a1a" stroke-width="1.1"/>
<rect x="117.55" y="47.05" width="39.30" height="109.15" fill="none" stroke="#1a1a1a" stroke-width="1.1"/>
<rect x="117.55" y="28.65" width="39.30" height="8.6" fill="#d9d9d9" stroke="#1a1a1a" stroke-width="1.1"/>
<rect x="117.55" y="37.25" width="39.30" height="8.6" fill="#d9d9d9" stroke="#1a1a1a" stroke-width="1.1"/>
<text x="137.20" y="34.40" font-size="4.6" text-anchor="middle" fill="#2a2a2a" stroke="#2a2a2a" stroke-width="0.03" >Gut</text>
<text x="137.20" y="43.30" font-size="4.6" text-anchor="middle" fill="#2a2a2a" stroke="#2a2a2a" stroke-width="0.03" >SYN–B6</text>
<line x1="130.2" x2="130.2" y1="156.2" y2="158.80" stroke="#1a1a1a" stroke-width="1.1"/>
<line x1="144.2" x2="144.2" y1="156.2" y2="158.80" stroke="#1a1a1a" stroke-width="1.1"/>
<rect x="160.65" y="47.05" width="37.30" height="109.15" fill="none" stroke="#1a1a1a" stroke-width="1.1"/>
<rect x="160.65" y="28.65" width="37.30" height="8.6" fill="#d9d9d9" stroke="#1a1a1a" stroke-width="1.1"/>
<rect x="160.65" y="37.25" width="37.30" height="8.6" fill="#d9d9d9" stroke="#1a1a1a" stroke-width="1.1"/>
<text x="179.30" y="34.40" font-size="4.6" text-anchor="middle" fill="#2a2a2a" stroke="#2a2a2a" stroke-width="0.03" >Gut</text>
<text x="179.30" y="43.30" font-size="4.6" text-anchor="middle" fill="#2a2a2a" stroke="#2a2a2a" stroke-width="0.03" >MIN–BB</text>
<line x1="172.2" x2="172.2" y1="156.2" y2="158.80" stroke="#1a1a1a" stroke-width="1.1"/>
<line x1="185.8" x2="185.8" y1="156.2" y2="158.80" stroke="#1a1a1a" stroke-width="1.1"/>
<rect x="201.75" y="47.05" width="38.10" height="109.15" fill="none" stroke="#1a1a1a" stroke-width="1.1"/>
<rect x="201.75" y="28.65" width="38.10" height="8.6" fill="#d9d9d9" stroke="#1a1a1a" stroke-width="1.1"/>
<rect x="201.75" y="37.25" width="38.10" height="8.6" fill="#d9d9d9" stroke="#1a1a1a" stroke-width="1.1"/>
<text x="220.80" y="34.40" font-size="4.6" text-anchor="middle" fill="#2a2a2a" stroke="#2a2a2a" stroke-width="0.03" >Gut</text>
<text x="220.80" y="43.30" font-size="4.6" text-anchor="middle" fill="#2a2a2a" stroke="#2a2a2a" stroke-width="0.03" >MAJ–BR</text>
<line x1="214.0" x2="214.0" y1="156.2" y2="158.80" stroke="#1a1a1a" stroke-width="1.1"/>
<line x1="227.8" x2="227.8" y1="156.2" y2="158.80" stroke="#1a1a1a" stroke-width="1.1"/>
<rect x="243.75" y="47.05" width="38.40" height="109.15" fill="none" stroke="#1a1a1a" stroke-width="1.1"/>
<rect x="243.75" y="28.65" width="38.40" height="8.6" fill="#d9d9d9" stroke="#1a1a1a" stroke-width="1.1"/>
<rect x="243.75" y="37.25" width="38.40" height="8.6" fill="#d9d9d9" stroke="#1a1a1a" stroke-width="1.1"/>
<text x="262.95" y="34.40" font-size="4.6" text-anchor="middle" fill="#2a2a2a" stroke="#2a2a2a" stroke-width="0.03" >Gut</text>
<text x="262.95" y="43.30" font-size="4.6" text-anchor="middle" fill="#2a2a2a" stroke="#2a2a2a" stroke-width="0.03" >MAJ–BC</text>
<line x1="256.5" x2="256.5" y1="156.2" y2="158.80" stroke="#1a1a1a" stroke-width="1.1"/>
<line x1="270.3" x2="270.3" y1="156.2" y2="158.80" stroke="#1a1a1a" stroke-width="1.1"/>
<text x="137.00" y="53.70" font-size="5.2" text-anchor="middle" fill="#1a1a1a" stroke="#1a1a1a" stroke-width="0.07" textLength="22.7" lengthAdjust="spacingAndGlyphs" >*p.adj&lt;0.01</text>
<line x1="47.0" x2="50" y1="60.60" y2="60.60" stroke="#1a1a1a" stroke-width="1.1"/>
<text x="43.90" y="62.50" font-size="5.4" text-anchor="end" fill="#333" stroke="#333" stroke-width="0.07" >25.0%</text>
<line x1="47.0" x2="50" y1="78.85" y2="78.85" stroke="#1a1a1a" stroke-width="1.1"/>
<text x="43.90" y="80.75" font-size="5.4" text-anchor="end" fill="#333" stroke="#333" stroke-width="0.07" >16.0%</text>
<line x1="47.0" x2="50" y1="97.10" y2="97.10" stroke="#1a1a1a" stroke-width="1.1"/>
<text x="43.90" y="99.00" font-size="5.4" text-anchor="end" fill="#333" stroke="#333" stroke-width="0.07" >9.0%</text>
<line x1="47.0" x2="50" y1="115.35" y2="115.35" stroke="#1a1a1a" stroke-width="1.1"/>
<text x="43.90" y="117.25" font-size="5.4" text-anchor="end" fill="#333" stroke="#333" stroke-width="0.07" >4.0%</text>
<line x1="47.0" x2="50" y1="126.04" y2="126.04" stroke="#1a1a1a" stroke-width="1.1"/>
<text x="43.90" y="127.94" font-size="5.4" text-anchor="end" fill="#333" stroke="#333" stroke-width="0.07" >2.0%</text>
<line x1="47.0" x2="50" y1="133.60" y2="133.60" stroke="#1a1a1a" stroke-width="1.1"/>
<text x="43.90" y="135.50" font-size="5.4" text-anchor="end" fill="#333" stroke="#333" stroke-width="0.07" >1.0%</text>
<line x1="47.0" x2="50" y1="146.08" y2="146.08" stroke="#1a1a1a" stroke-width="1.1"/>
<text x="43.90" y="147.98" font-size="5.4" text-anchor="end" fill="#333" stroke="#333" stroke-width="0.07" >0.1%</text>
<line x1="47.0" x2="50" y1="151.85" y2="151.85" stroke="#1a1a1a" stroke-width="1.1"/>
<text x="43.90" y="153.75" font-size="5.4" text-anchor="end" fill="#333" stroke="#333" stroke-width="0.07" >0.0%</text>
<text x="22.50" y="101.50" font-size="8.4" text-anchor="middle" fill="#111" stroke="#111" stroke-width="0.1" textLength="73.0" lengthAdjust="spacingAndGlyphs" transform="rotate(-90 22.50 101.50)" >Proportion of TRAV11–TRAJ18</text>
<text x="0" y="0" font-size="6.2" text-anchor="end" fill="#333" stroke="#333" stroke-width="0.16" textLength="20.5" lengthAdjust="spacingAndGlyphs" transform="translate(68.90 165.80) rotate(-45)">D00–00</text>
<text x="0" y="0" font-size="6.2" text-anchor="end" fill="#333" stroke="#333" stroke-width="0.16" textLength="20.5" lengthAdjust="spacingAndGlyphs" transform="translate(102.30 165.80) rotate(-45)">D00–00</text>
<text x="0" y="0" font-size="6.2" text-anchor="end" fill="#333" stroke="#333" stroke-width="0.16" textLength="20.5" lengthAdjust="spacingAndGlyphs" transform="translate(133.60 165.80) rotate(-45)">D09–11</text>
<text x="0" y="0" font-size="6.2" text-anchor="end" fill="#333" stroke="#333" stroke-width="0.16" textLength="20.5" lengthAdjust="spacingAndGlyphs" transform="translate(147.60 165.80) rotate(-45)">D18–32</text>
<text x="0" y="0" font-size="6.2" text-anchor="end" fill="#333" stroke="#333" stroke-width="0.16" textLength="20.5" lengthAdjust="spacingAndGlyphs" transform="translate(175.60 165.80) rotate(-45)">D09–11</text>
<text x="0" y="0" font-size="6.2" text-anchor="end" fill="#333" stroke="#333" stroke-width="0.16" textLength="20.5" lengthAdjust="spacingAndGlyphs" transform="translate(189.20 165.80) rotate(-45)">D18–32</text>
<text x="0" y="0" font-size="6.2" text-anchor="end" fill="#333" stroke="#333" stroke-width="0.16" textLength="20.5" lengthAdjust="spacingAndGlyphs" transform="translate(217.40 165.80) rotate(-45)">D09–11</text>
<text x="0" y="0" font-size="6.2" text-anchor="end" fill="#333" stroke="#333" stroke-width="0.16" textLength="20.5" lengthAdjust="spacingAndGlyphs" transform="translate(231.20 165.80) rotate(-45)">D18–32</text>
<text x="0" y="0" font-size="6.2" text-anchor="end" fill="#333" stroke="#333" stroke-width="0.16" textLength="20.5" lengthAdjust="spacingAndGlyphs" transform="translate(259.90 165.80) rotate(-45)">D09–11</text>
<text x="0" y="0" font-size="6.2" text-anchor="end" fill="#333" stroke="#333" stroke-width="0.16" textLength="20.5" lengthAdjust="spacingAndGlyphs" transform="translate(273.70 165.80) rotate(-45)">D18–32</text>
<text x="158.50" y="190.30" font-size="7.6" text-anchor="middle" fill="#111" stroke="#111" stroke-width="0.12" textLength="11.4" lengthAdjust="spacingAndGlyphs" >Days</text>
<text x="65.10" y="200.10" font-size="5.4" text-anchor="start" fill="#333" stroke="#333" stroke-width="0.07" textLength="10" lengthAdjust="spacingAndGlyphs" >Time:</text>
<circle cx="83.1" cy="198.2" r="2.1" fill="#c4c3c9"/>
<text x="88.00" y="200.10" font-size="5.4" text-anchor="start" fill="#333" stroke="#333" stroke-width="0.07" textLength="11" lengthAdjust="spacingAndGlyphs" >Pre-tx</text>
<circle cx="108.1" cy="198.2" r="2.1" fill="#aebe86"/>
<text x="113.30" y="200.10" font-size="5.4" text-anchor="start" fill="#333" stroke="#333" stroke-width="0.07" textLength="34.8" lengthAdjust="spacingAndGlyphs" >Post-tx days 9–11</text>
<circle cx="155.2" cy="198.2" r="2.1" fill="#5aa935"/>
<text x="160.40" y="200.10" font-size="5.4" text-anchor="start" fill="#333" stroke="#333" stroke-width="0.07" textLength="37.7" lengthAdjust="spacingAndGlyphs" >Post-tx days 18–32</text>
<text x="201.40" y="200.10" font-size="5.4" text-anchor="start" fill="#333" stroke="#333" stroke-width="0.07" textLength="12.8" lengthAdjust="spacingAndGlyphs" >Tissue:</text>
<rect x="221" y="196.50" width="3.4" height="3.4" fill="#000"/>
<text x="227.80" y="200.10" font-size="5.4" text-anchor="start" fill="#333" stroke="#333" stroke-width="0.07" textLength="10.3" lengthAdjust="spacingAndGlyphs" >T cell</text>
<circle cx="246.2" cy="198.2" r="2.2" fill="#000"/>
<text x="250.70" y="200.10" font-size="5.4" text-anchor="start" fill="#333" stroke="#333" stroke-width="0.07" textLength="8" lengthAdjust="spacingAndGlyphs" >Gut</text>
<line x1="316.2" x2="316.2" y1="28" y2="167.5" stroke="#222" stroke-width="1.1"/>
<path d="M316.2 23.2 L313.4 29 L319 29 Z" fill="#000"/>
<line x1="330.6" x2="471.5" y1="187.8" y2="187.8" stroke="#222" stroke-width="1.1"/>
<path d="M476.6 187.8 L470.7 185.1 L470.7 190.5 Z" fill="#000"/>
<text x="305.00" y="54.70" font-size="8.4" text-anchor="start" fill="#111" stroke="#111" stroke-width="0.14" textLength="8.1" lengthAdjust="spacingAndGlyphs" >Gut</text>
<text x="296.60" y="119.70" font-size="8.2" text-anchor="start" fill="#111" stroke="#111" stroke-width="0.14" textLength="16.5" lengthAdjust="spacingAndGlyphs" >Spleen</text>
<text x="311.30" y="147.80" font-size="7.0" text-anchor="middle" fill="#111" stroke="#111" stroke-width="0.1" textLength="34.4" lengthAdjust="spacingAndGlyphs" transform="rotate(-90 311.30 147.80)" >CD1d tetramer</text>
<text x="331.00" y="200.70" font-size="7.2" text-anchor="start" fill="#111" stroke="#111" stroke-width="0.1" textLength="16.3" lengthAdjust="spacingAndGlyphs" >TCRβ<tspan font-size="4.2" dy="-3.0">+</tspan></text>
<text x="365.50" y="22.30" font-size="7.8" text-anchor="middle" fill="#111" textLength="34.8" lengthAdjust="spacingAndGlyphs" >Allogeneic</text>
<text x="452.20" y="21.60" font-size="7.8" text-anchor="middle" fill="#111" textLength="35.3" lengthAdjust="spacingAndGlyphs" >Syngeneic</text>
<text x="489.00" y="50.70" font-size="8.5" text-anchor="start" fill="#000" stroke="#000" stroke-width="0.07" textLength="12.9" lengthAdjust="spacingAndGlyphs" >Gut</text>
<text x="489.00" y="124.00" font-size="8.5" text-anchor="start" fill="#000" stroke="#000" stroke-width="0.07" textLength="23.8" lengthAdjust="spacingAndGlyphs" >Spleen</text>
<rect x="333.5" y="27.3" width="66.00" height="64.30" fill="#fff" stroke="#d6d6d6" stroke-width="0.8"/>
<line x1="331.80" x2="333.20" y1="59.44" y2="59.44" stroke="#8a8a8a" stroke-width="0.55"/>
<line x1="331.80" x2="333.20" y1="56.66" y2="56.66" stroke="#8a8a8a" stroke-width="0.55"/>
<line x1="331.80" x2="333.20" y1="54.69" y2="54.69" stroke="#8a8a8a" stroke-width="0.55"/>
<line x1="331.80" x2="333.20" y1="53.16" y2="53.16" stroke="#8a8a8a" stroke-width="0.55"/>
<line x1="331.80" x2="333.20" y1="51.91" y2="51.91" stroke="#8a8a8a" stroke-width="0.55"/>
<line x1="331.80" x2="333.20" y1="50.85" y2="50.85" stroke="#8a8a8a" stroke-width="0.55"/>
<line x1="331.80" x2="333.20" y1="49.93" y2="49.93" stroke="#8a8a8a" stroke-width="0.55"/>
<line x1="331.80" x2="333.20" y1="49.12" y2="49.12" stroke="#8a8a8a" stroke-width="0.55"/>
<line x1="331.80" x2="333.20" y1="44.13" y2="44.13" stroke="#8a8a8a" stroke-width="0.55"/>
<line x1="331.80" x2="333.20" y1="41.62" y2="41.62" stroke="#8a8a8a" stroke-width="0.55"/>
<line x1="331.80" x2="333.20" y1="39.85" y2="39.85" stroke="#8a8a8a" stroke-width="0.55"/>
<line x1="331.80" x2="333.20" y1="38.47" y2="38.47" stroke="#8a8a8a" stroke-width="0.55"/>
<line x1="331.80" x2="333.20" y1="37.35" y2="37.35" stroke="#8a8a8a" stroke-width="0.55"/>
<line x1="331.80" x2="333.20" y1="36.40" y2="36.40" stroke="#8a8a8a" stroke-width="0.55"/>
<line x1="331.80" x2="333.20" y1="35.58" y2="35.58" stroke="#8a8a8a" stroke-width="0.55"/>
<line x1="331.80" x2="333.20" y1="34.85" y2="34.85" stroke="#8a8a8a" stroke-width="0.55"/>
<line x1="331.80" x2="333.20" y1="29.93" y2="29.93" stroke="#8a8a8a" stroke-width="0.55"/>
<line x1="331.80" x2="333.20" y1="71.50" y2="71.50" stroke="#777" stroke-width="0.55"/>
<line x1="331.80" x2="333.20" y1="75.50" y2="75.50" stroke="#777" stroke-width="0.55"/>
<line x1="331.80" x2="333.20" y1="80.00" y2="80.00" stroke="#777" stroke-width="0.55"/>
<line x1="331.80" x2="333.20" y1="86.30" y2="86.30" stroke="#777" stroke-width="0.55"/>
<line x1="331.80" x2="333.20" y1="87.80" y2="87.80" stroke="#777" stroke-width="0.55"/>
<line x1="331.80" x2="333.20" y1="89.20" y2="89.20" stroke="#777" stroke-width="0.55"/>
<line x1="331.20" x2="333.30" y1="34.20" y2="34.20" stroke="#222" stroke-width="0.8"/>
<text x="325.80" y="36.20" font-size="5.6" text-anchor="end" fill="#222" stroke="#222" stroke-width="0.07" >10</text>
<text x="325.90" y="34.10" font-size="4.2" text-anchor="start" fill="#222" stroke="#222" stroke-width="0.07" >5</text>
<line x1="331.20" x2="333.30" y1="48.40" y2="48.40" stroke="#222" stroke-width="0.8"/>
<text x="325.80" y="50.40" font-size="5.6" text-anchor="end" fill="#222" stroke="#222" stroke-width="0.07" >10</text>
<text x="325.90" y="48.30" font-size="4.2" text-anchor="start" fill="#222" stroke="#222" stroke-width="0.07" >4</text>
<line x1="331.20" x2="333.30" y1="64.20" y2="64.20" stroke="#222" stroke-width="0.8"/>
<text x="325.80" y="66.20" font-size="5.6" text-anchor="end" fill="#222" stroke="#222" stroke-width="0.07" >10</text>
<text x="325.90" y="64.10" font-size="4.2" text-anchor="start" fill="#222" stroke="#222" stroke-width="0.07" >3</text>
<line x1="331.20" x2="333.30" y1="84.00" y2="84.00" stroke="#222" stroke-width="0.8"/>
<circle cx="332.80" cy="84.00" r="0.9" fill="#000"/>
<text x="326.60" y="86.00" font-size="5.6" text-anchor="middle" fill="#222" stroke="#222" stroke-width="0.07" >0</text>
<line x1="367.12" x2="367.12" y1="92.90" y2="94.40" stroke="#8a8a8a" stroke-width="0.55"/>
<line x1="369.76" x2="369.76" y1="92.90" y2="94.40" stroke="#8a8a8a" stroke-width="0.55"/>
<line x1="371.63" x2="371.63" y1="92.90" y2="94.40" stroke="#8a8a8a" stroke-width="0.55"/>
<line x1="373.08" x2="373.08" y1="92.90" y2="94.40" stroke="#8a8a8a" stroke-width="0.55"/>
<line x1="374.27" x2="374.27" y1="92.90" y2="94.40" stroke="#8a8a8a" stroke-width="0.55"/>
<line x1="375.28" x2="375.28" y1="92.90" y2="94.40" stroke="#8a8a8a" stroke-width="0.55"/>
<line x1="376.15" x2="376.15" y1="92.90" y2="94.40" stroke="#8a8a8a" stroke-width="0.55"/>
<line x1="376.91" x2="376.91" y1="92.90" y2="94.40" stroke="#8a8a8a" stroke-width="0.55"/>
<line x1="382.06" x2="382.06" y1="92.90" y2="94.40" stroke="#8a8a8a" stroke-width="0.55"/>
<line x1="384.66" x2="384.66" y1="92.90" y2="94.40" stroke="#8a8a8a" stroke-width="0.55"/>
<line x1="386.51" x2="386.51" y1="92.90" y2="94.40" stroke="#8a8a8a" stroke-width="0.55"/>
<line x1="387.94" x2="387.94" y1="92.90" y2="94.40" stroke="#8a8a8a" stroke-width="0.55"/>
<line x1="389.12" x2="389.12" y1="92.90" y2="94.40" stroke="#8a8a8a" stroke-width="0.55"/>
<line x1="390.11" x2="390.11" y1="92.90" y2="94.40" stroke="#8a8a8a" stroke-width="0.55"/>
<line x1="390.97" x2="390.97" y1="92.90" y2="94.40" stroke="#8a8a8a" stroke-width="0.55"/>
<line x1="391.72" x2="391.72" y1="92.90" y2="94.40" stroke="#8a8a8a" stroke-width="0.55"/>
<line x1="345.80" x2="345.80" y1="92.90" y2="94.40" stroke="#888" stroke-width="0.55"/>
<line x1="349.80" x2="349.80" y1="92.90" y2="94.40" stroke="#888" stroke-width="0.55"/>
<line x1="354.30" x2="354.30" y1="92.90" y2="94.40" stroke="#888" stroke-width="0.55"/>
<line x1="357.80" x2="357.80" y1="92.90" y2="94.40" stroke="#888" stroke-width="0.55"/>
<line x1="337.30" x2="337.30" y1="92.90" y2="94.40" stroke="#888" stroke-width="0.55"/>
<line x1="334.80" x2="334.80" y1="92.90" y2="94.40" stroke="#888" stroke-width="0.55"/>
<line x1="362.60" x2="362.60" y1="92.70" y2="94.70" stroke="#222" stroke-width="0.8"/>
<text x="364.50" y="101.70" font-size="5.6" text-anchor="end" fill="#222" stroke="#222" stroke-width="0.07" >10</text>
<text x="364.70" y="99.20" font-size="4.2" text-anchor="start" fill="#222" stroke="#222" stroke-width="0.07" >3</text>
<line x1="377.60" x2="377.60" y1="92.70" y2="94.70" stroke="#222" stroke-width="0.8"/>
<text x="379.50" y="101.70" font-size="5.6" text-anchor="end" fill="#222" stroke="#222" stroke-width="0.07" >10</text>
<text x="379.70" y="99.20" font-size="4.2" text-anchor="start" fill="#222" stroke="#222" stroke-width="0.07" >4</text>
<line x1="392.40" x2="392.40" y1="92.70" y2="94.70" stroke="#222" stroke-width="0.8"/>
<text x="394.30" y="101.70" font-size="5.6" text-anchor="end" fill="#222" stroke="#222" stroke-width="0.07" >10</text>
<text x="394.50" y="99.20" font-size="4.2" text-anchor="start" fill="#222" stroke="#222" stroke-width="0.07" >5</text>
<text x="340.30" y="101.70" font-size="5.6" text-anchor="middle" fill="#222" stroke="#222" stroke-width="0.07" >0</text>
<ellipse cx="333.90" cy="93.50" rx="1.08" ry="0.68" fill="#111" opacity="0.85"/>
<ellipse cx="336.60" cy="93.50" rx="1.02" ry="0.64" fill="#111" opacity="0.8"/>
<ellipse cx="340.30" cy="93.50" rx="1.56" ry="0.98" fill="#111" opacity="1.0"/>
<ellipse cx="343.80" cy="93.50" rx="1.08" ry="0.68" fill="#111" opacity="0.8"/>
<ellipse cx="346.70" cy="93.50" rx="1.08" ry="0.68" fill="#111" opacity="0.8"/>
<rect x="419.6" y="26.6" width="66.00" height="65.00" fill="#fff" stroke="#d6d6d6" stroke-width="0.8"/>
<line x1="418.00" x2="419.40" y1="59.44" y2="59.44" stroke="#8a8a8a" stroke-width="0.55"/>
<line x1="418.00" x2="419.40" y1="56.66" y2="56.66" stroke="#8a8a8a" stroke-width="0.55"/>
<line x1="418.00" x2="419.40" y1="54.69" y2="54.69" stroke="#8a8a8a" stroke-width="0.55"/>
<line x1="418.00" x2="419.40" y1="53.16" y2="53.16" stroke="#8a8a8a" stroke-width="0.55"/>
<line x1="418.00" x2="419.40" y1="51.91" y2="51.91" stroke="#8a8a8a" stroke-width="0.55"/>
<line x1="418.00" x2="419.40" y1="50.85" y2="50.85" stroke="#8a8a8a" stroke-width="0.55"/>
<line x1="418.00" x2="419.40" y1="49.93" y2="49.93" stroke="#8a8a8a" stroke-width="0.55"/>
<line x1="418.00" x2="419.40" y1="49.12" y2="49.12" stroke="#8a8a8a" stroke-width="0.55"/>
<line x1="418.00" x2="419.40" y1="44.13" y2="44.13" stroke="#8a8a8a" stroke-width="0.55"/>
<line x1="418.00" x2="419.40" y1="41.62" y2="41.62" stroke="#8a8a8a" stroke-width="0.55"/>
<line x1="418.00" x2="419.40" y1="39.85" y2="39.85" stroke="#8a8a8a" stroke-width="0.55"/>
<line x1="418.00" x2="419.40" y1="38.47" y2="38.47" stroke="#8a8a8a" stroke-width="0.55"/>
<line x1="418.00" x2="419.40" y1="37.35" y2="37.35" stroke="#8a8a8a" stroke-width="0.55"/>
<line x1="418.00" x2="419.40" y1="36.40" y2="36.40" stroke="#8a8a8a" stroke-width="0.55"/>
<line x1="418.00" x2="419.40" y1="35.58" y2="35.58" stroke="#8a8a8a" stroke-width="0.55"/>
<line x1="418.00" x2="419.40" y1="34.85" y2="34.85" stroke="#8a8a8a" stroke-width="0.55"/>
<line x1="418.00" x2="419.40" y1="29.93" y2="29.93" stroke="#8a8a8a" stroke-width="0.55"/>
<line x1="418.00" x2="419.40" y1="71.50" y2="71.50" stroke="#777" stroke-width="0.55"/>
<line x1="418.00" x2="419.40" y1="75.50" y2="75.50" stroke="#777" stroke-width="0.55"/>
<line x1="418.00" x2="419.40" y1="80.00" y2="80.00" stroke="#777" stroke-width="0.55"/>
<line x1="418.00" x2="419.40" y1="86.30" y2="86.30" stroke="#777" stroke-width="0.55"/>
<line x1="418.00" x2="419.40" y1="87.80" y2="87.80" stroke="#777" stroke-width="0.55"/>
<line x1="418.00" x2="419.40" y1="89.20" y2="89.20" stroke="#777" stroke-width="0.55"/>
<line x1="417.40" x2="419.50" y1="34.20" y2="34.20" stroke="#222" stroke-width="0.8"/>
<text x="412.00" y="36.20" font-size="5.6" text-anchor="end" fill="#222" stroke="#222" stroke-width="0.07" >10</text>
<text x="412.10" y="34.10" font-size="4.2" text-anchor="start" fill="#222" stroke="#222" stroke-width="0.07" >5</text>
<line x1="417.40" x2="419.50" y1="48.40" y2="48.40" stroke="#222" stroke-width="0.8"/>
<text x="412.00" y="50.40" font-size="5.6" text-anchor="end" fill="#222" stroke="#222" stroke-width="0.07" >10</text>
<text x="412.10" y="48.30" font-size="4.2" text-anchor="start" fill="#222" stroke="#222" stroke-width="0.07" >4</text>
<line x1="417.40" x2="419.50" y1="64.20" y2="64.20" stroke="#222" stroke-width="0.8"/>
<text x="412.00" y="66.20" font-size="5.6" text-anchor="end" fill="#222" stroke="#222" stroke-width="0.07" >10</text>
<text x="412.10" y="64.10" font-size="4.2" text-anchor="start" fill="#222" stroke="#222" stroke-width="0.07" >3</text>
<line x1="417.40" x2="419.50" y1="84.00" y2="84.00" stroke="#222" stroke-width="0.8"/>
<circle cx="419.00" cy="84.00" r="0.9" fill="#000"/>
<text x="412.80" y="86.00" font-size="5.6" text-anchor="middle" fill="#222" stroke="#222" stroke-width="0.07" >0</text>
<line x1="453.32" x2="453.32" y1="92.70" y2="94.20" stroke="#8a8a8a" stroke-width="0.55"/>
<line x1="455.96" x2="455.96" y1="92.70" y2="94.20" stroke="#8a8a8a" stroke-width="0.55"/>
<line x1="457.83" x2="457.83" y1="92.70" y2="94.20" stroke="#8a8a8a" stroke-width="0.55"/>
<line x1="459.28" x2="459.28" y1="92.70" y2="94.20" stroke="#8a8a8a" stroke-width="0.55"/>
<line x1="460.47" x2="460.47" y1="92.70" y2="94.20" stroke="#8a8a8a" stroke-width="0.55"/>
<line x1="461.48" x2="461.48" y1="92.70" y2="94.20" stroke="#8a8a8a" stroke-width="0.55"/>
<line x1="462.35" x2="462.35" y1="92.70" y2="94.20" stroke="#8a8a8a" stroke-width="0.55"/>
<line x1="463.11" x2="463.11" y1="92.70" y2="94.20" stroke="#8a8a8a" stroke-width="0.55"/>
<line x1="468.26" x2="468.26" y1="92.70" y2="94.20" stroke="#8a8a8a" stroke-width="0.55"/>
<line x1="470.86" x2="470.86" y1="92.70" y2="94.20" stroke="#8a8a8a" stroke-width="0.55"/>
<line x1="472.71" x2="472.71" y1="92.70" y2="94.20" stroke="#8a8a8a" stroke-width="0.55"/>
<line x1="474.14" x2="474.14" y1="92.70" y2="94.20" stroke="#8a8a8a" stroke-width="0.55"/>
<line x1="475.32" x2="475.32" y1="92.70" y2="94.20" stroke="#8a8a8a" stroke-width="0.55"/>
<line x1="476.31" x2="476.31" y1="92.70" y2="94.20" stroke="#8a8a8a" stroke-width="0.55"/>
<line x1="477.17" x2="477.17" y1="92.70" y2="94.20" stroke="#8a8a8a" stroke-width="0.55"/>
<line x1="477.92" x2="477.92" y1="92.70" y2="94.20" stroke="#8a8a8a" stroke-width="0.55"/>
<line x1="432.00" x2="432.00" y1="92.70" y2="94.20" stroke="#888" stroke-width="0.55"/>
<line x1="436.00" x2="436.00" y1="92.70" y2="94.20" stroke="#888" stroke-width="0.55"/>
<line x1="440.50" x2="440.50" y1="92.70" y2="94.20" stroke="#888" stroke-width="0.55"/>
<line x1="444.00" x2="444.00" y1="92.70" y2="94.20" stroke="#888" stroke-width="0.55"/>
<line x1="423.50" x2="423.50" y1="92.70" y2="94.20" stroke="#888" stroke-width="0.55"/>
<line x1="421.00" x2="421.00" y1="92.70" y2="94.20" stroke="#888" stroke-width="0.55"/>
<line x1="448.80" x2="448.80" y1="92.50" y2="94.50" stroke="#222" stroke-width="0.8"/>
<text x="450.70" y="101.50" font-size="5.6" text-anchor="end" fill="#222" stroke="#222" stroke-width="0.07" >10</text>
<text x="450.90" y="99.00" font-size="4.2" text-anchor="start" fill="#222" stroke="#222" stroke-width="0.07" >3</text>
<line x1="463.80" x2="463.80" y1="92.50" y2="94.50" stroke="#222" stroke-width="0.8"/>
<text x="465.70" y="101.50" font-size="5.6" text-anchor="end" fill="#222" stroke="#222" stroke-width="0.07" >10</text>
<text x="465.90" y="99.00" font-size="4.2" text-anchor="start" fill="#222" stroke="#222" stroke-width="0.07" >4</text>
<line x1="478.60" x2="478.60" y1="92.50" y2="94.50" stroke="#222" stroke-width="0.8"/>
<text x="480.50" y="101.50" font-size="5.6" text-anchor="end" fill="#222" stroke="#222" stroke-width="0.07" >10</text>
<text x="480.70" y="99.00" font-size="4.2" text-anchor="start" fill="#222" stroke="#222" stroke-width="0.07" >5</text>
<text x="426.50" y="101.50" font-size="5.6" text-anchor="middle" fill="#222" stroke="#222" stroke-width="0.07" >0</text>
<ellipse cx="420.10" cy="93.30" rx="1.08" ry="0.68" fill="#111" opacity="0.85"/>
<ellipse cx="422.80" cy="93.30" rx="1.02" ry="0.64" fill="#111" opacity="0.8"/>
<ellipse cx="426.50" cy="93.30" rx="1.56" ry="0.98" fill="#111" opacity="1.0"/>
<ellipse cx="430.00" cy="93.30" rx="1.08" ry="0.68" fill="#111" opacity="0.8"/>
<ellipse cx="432.90" cy="93.30" rx="1.08" ry="0.68" fill="#111" opacity="0.8"/>
<rect x="333.6" y="107.7" width="66.10" height="64.40" fill="#fff" stroke="#d6d6d6" stroke-width="0.8"/>
<line x1="331.90" x2="333.30" y1="139.94" y2="139.94" stroke="#8a8a8a" stroke-width="0.55"/>
<line x1="331.90" x2="333.30" y1="137.16" y2="137.16" stroke="#8a8a8a" stroke-width="0.55"/>
<line x1="331.90" x2="333.30" y1="135.19" y2="135.19" stroke="#8a8a8a" stroke-width="0.55"/>
<line x1="331.90" x2="333.30" y1="133.66" y2="133.66" stroke="#8a8a8a" stroke-width="0.55"/>
<line x1="331.90" x2="333.30" y1="132.41" y2="132.41" stroke="#8a8a8a" stroke-width="0.55"/>
<line x1="331.90" x2="333.30" y1="131.35" y2="131.35" stroke="#8a8a8a" stroke-width="0.55"/>
<line x1="331.90" x2="333.30" y1="130.43" y2="130.43" stroke="#8a8a8a" stroke-width="0.55"/>
<line x1="331.90" x2="333.30" y1="129.62" y2="129.62" stroke="#8a8a8a" stroke-width="0.55"/>
<line x1="331.90" x2="333.30" y1="124.63" y2="124.63" stroke="#8a8a8a" stroke-width="0.55"/>
<line x1="331.90" x2="333.30" y1="122.12" y2="122.12" stroke="#8a8a8a" stroke-width="0.55"/>
<line x1="331.90" x2="333.30" y1="120.35" y2="120.35" stroke="#8a8a8a" stroke-width="0.55"/>
<line x1="331.90" x2="333.30" y1="118.97" y2="118.97" stroke="#8a8a8a" stroke-width="0.55"/>
<line x1="331.90" x2="333.30" y1="117.85" y2="117.85" stroke="#8a8a8a" stroke-width="0.55"/>
<line x1="331.90" x2="333.30" y1="116.90" y2="116.90" stroke="#8a8a8a" stroke-width="0.55"/>
<line x1="331.90" x2="333.30" y1="116.08" y2="116.08" stroke="#8a8a8a" stroke-width="0.55"/>
<line x1="331.90" x2="333.30" y1="115.35" y2="115.35" stroke="#8a8a8a" stroke-width="0.55"/>
<line x1="331.90" x2="333.30" y1="110.43" y2="110.43" stroke="#8a8a8a" stroke-width="0.55"/>
<line x1="331.90" x2="333.30" y1="152.00" y2="152.00" stroke="#777" stroke-width="0.55"/>
<line x1="331.90" x2="333.30" y1="156.00" y2="156.00" stroke="#777" stroke-width="0.55"/>
<line x1="331.90" x2="333.30" y1="160.50" y2="160.50" stroke="#777" stroke-width="0.55"/>
<line x1="331.90" x2="333.30" y1="166.80" y2="166.80" stroke="#777" stroke-width="0.55"/>
<line x1="331.90" x2="333.30" y1="168.30" y2="168.30" stroke="#777" stroke-width="0.55"/>
<line x1="331.90" x2="333.30" y1="169.70" y2="169.70" stroke="#777" stroke-width="0.55"/>
<line x1="331.30" x2="333.40" y1="114.70" y2="114.70" stroke="#222" stroke-width="0.8"/>
<text x="325.90" y="116.70" font-size="5.6" text-anchor="end" fill="#222" stroke="#222" stroke-width="0.07" >10</text>
<text x="326.00" y="114.60" font-size="4.2" text-anchor="start" fill="#222" stroke="#222" stroke-width="0.07" >5</text>
<line x1="331.30" x2="333.40" y1="128.90" y2="128.90" stroke="#222" stroke-width="0.8"/>
<text x="325.90" y="130.90" font-size="5.6" text-anchor="end" fill="#222" stroke="#222" stroke-width="0.07" >10</text>
<text x="326.00" y="128.80" font-size="4.2" text-anchor="start" fill="#222" stroke="#222" stroke-width="0.07" >4</text>
<line x1="331.30" x2="333.40" y1="144.70" y2="144.70" stroke="#222" stroke-width="0.8"/>
<text x="325.90" y="146.70" font-size="5.6" text-anchor="end" fill="#222" stroke="#222" stroke-width="0.07" >10</text>
<text x="326.00" y="144.60" font-size="4.2" text-anchor="start" fill="#222" stroke="#222" stroke-width="0.07" >3</text>
<line x1="331.30" x2="333.40" y1="164.50" y2="164.50" stroke="#222" stroke-width="0.8"/>
<circle cx="332.90" cy="164.50" r="0.9" fill="#000"/>
<text x="326.70" y="166.50" font-size="5.6" text-anchor="middle" fill="#222" stroke="#222" stroke-width="0.07" >0</text>
<line x1="367.22" x2="367.22" y1="173.40" y2="174.90" stroke="#8a8a8a" stroke-width="0.55"/>
<line x1="369.86" x2="369.86" y1="173.40" y2="174.90" stroke="#8a8a8a" stroke-width="0.55"/>
<line x1="371.73" x2="371.73" y1="173.40" y2="174.90" stroke="#8a8a8a" stroke-width="0.55"/>
<line x1="373.18" x2="373.18" y1="173.40" y2="174.90" stroke="#8a8a8a" stroke-width="0.55"/>
<line x1="374.37" x2="374.37" y1="173.40" y2="174.90" stroke="#8a8a8a" stroke-width="0.55"/>
<line x1="375.38" x2="375.38" y1="173.40" y2="174.90" stroke="#8a8a8a" stroke-width="0.55"/>
<line x1="376.25" x2="376.25" y1="173.40" y2="174.90" stroke="#8a8a8a" stroke-width="0.55"/>
<line x1="377.01" x2="377.01" y1="173.40" y2="174.90" stroke="#8a8a8a" stroke-width="0.55"/>
<line x1="382.16" x2="382.16" y1="173.40" y2="174.90" stroke="#8a8a8a" stroke-width="0.55"/>
<line x1="384.76" x2="384.76" y1="173.40" y2="174.90" stroke="#8a8a8a" stroke-width="0.55"/>
<line x1="386.61" x2="386.61" y1="173.40" y2="174.90" stroke="#8a8a8a" stroke-width="0.55"/>
<line x1="388.04" x2="388.04" y1="173.40" y2="174.90" stroke="#8a8a8a" stroke-width="0.55"/>
<line x1="389.22" x2="389.22" y1="173.40" y2="174.90" stroke="#8a8a8a" stroke-width="0.55"/>
<line x1="390.21" x2="390.21" y1="173.40" y2="174.90" stroke="#8a8a8a" stroke-width="0.55"/>
<line x1="391.07" x2="391.07" y1="173.40" y2="174.90" stroke="#8a8a8a" stroke-width="0.55"/>
<line x1="391.82" x2="391.82" y1="173.40" y2="174.90" stroke="#8a8a8a" stroke-width="0.55"/>
<line x1="345.90" x2="345.90" y1="173.40" y2="174.90" stroke="#888" stroke-width="0.55"/>
<line x1="349.90" x2="349.90" y1="173.40" y2="174.90" stroke="#888" stroke-width="0.55"/>
<line x1="354.40" x2="354.40" y1="173.40" y2="174.90" stroke="#888" stroke-width="0.55"/>
<line x1="357.90" x2="357.90" y1="173.40" y2="174.90" stroke="#888" stroke-width="0.55"/>
<line x1="337.40" x2="337.40" y1="173.40" y2="174.90" stroke="#888" stroke-width="0.55"/>
<line x1="334.90" x2="334.90" y1="173.40" y2="174.90" stroke="#888" stroke-width="0.55"/>
<line x1="362.70" x2="362.70" y1="173.20" y2="175.20" stroke="#222" stroke-width="0.8"/>
<text x="364.60" y="182.20" font-size="5.6" text-anchor="end" fill="#222" stroke="#222" stroke-width="0.07" >10</text>
<text x="364.80" y="179.70" font-size="4.2" text-anchor="start" fill="#222" stroke="#222" stroke-width="0.07" >3</text>
<line x1="377.70" x2="377.70" y1="173.20" y2="175.20" stroke="#222" stroke-width="0.8"/>
<text x="379.60" y="182.20" font-size="5.6" text-anchor="end" fill="#222" stroke="#222" stroke-width="0.07" >10</text>
<text x="379.80" y="179.70" font-size="4.2" text-anchor="start" fill="#222" stroke="#222" stroke-width="0.07" >4</text>
<line x1="392.50" x2="392.50" y1="173.20" y2="175.20" stroke="#222" stroke-width="0.8"/>
<text x="394.40" y="182.20" font-size="5.6" text-anchor="end" fill="#222" stroke="#222" stroke-width="0.07" >10</text>
<text x="394.60" y="179.70" font-size="4.2" text-anchor="start" fill="#222" stroke="#222" stroke-width="0.07" >5</text>
<text x="340.40" y="182.20" font-size="5.6" text-anchor="middle" fill="#222" stroke="#222" stroke-width="0.07" >0</text>
<ellipse cx="334.00" cy="174.00" rx="1.08" ry="0.68" fill="#111" opacity="0.85"/>
<ellipse cx="336.70" cy="174.00" rx="1.02" ry="0.64" fill="#111" opacity="0.8"/>
<ellipse cx="340.40" cy="174.00" rx="1.56" ry="0.98" fill="#111" opacity="1.0"/>
<ellipse cx="343.90" cy="174.00" rx="1.08" ry="0.68" fill="#111" opacity="0.8"/>
<ellipse cx="346.80" cy="174.00" rx="1.08" ry="0.68" fill="#111" opacity="0.8"/>
<rect x="419.4" y="107.0" width="66.20" height="65.10" fill="#fff" stroke="#d6d6d6" stroke-width="0.8"/>
<line x1="418.00" x2="419.40" y1="139.94" y2="139.94" stroke="#8a8a8a" stroke-width="0.55"/>
<line x1="418.00" x2="419.40" y1="137.16" y2="137.16" stroke="#8a8a8a" stroke-width="0.55"/>
<line x1="418.00" x2="419.40" y1="135.19" y2="135.19" stroke="#8a8a8a" stroke-width="0.55"/>
<line x1="418.00" x2="419.40" y1="133.66" y2="133.66" stroke="#8a8a8a" stroke-width="0.55"/>
<line x1="418.00" x2="419.40" y1="132.41" y2="132.41" stroke="#8a8a8a" stroke-width="0.55"/>
<line x1="418.00" x2="419.40" y1="131.35" y2="131.35" stroke="#8a8a8a" stroke-width="0.55"/>
<line x1="418.00" x2="419.40" y1="130.43" y2="130.43" stroke="#8a8a8a" stroke-width="0.55"/>
<line x1="418.00" x2="419.40" y1="129.62" y2="129.62" stroke="#8a8a8a" stroke-width="0.55"/>
<line x1="418.00" x2="419.40" y1="124.63" y2="124.63" stroke="#8a8a8a" stroke-width="0.55"/>
<line x1="418.00" x2="419.40" y1="122.12" y2="122.12" stroke="#8a8a8a" stroke-width="0.55"/>
<line x1="418.00" x2="419.40" y1="120.35" y2="120.35" stroke="#8a8a8a" stroke-width="0.55"/>
<line x1="418.00" x2="419.40" y1="118.97" y2="118.97" stroke="#8a8a8a" stroke-width="0.55"/>
<line x1="418.00" x2="419.40" y1="117.85" y2="117.85" stroke="#8a8a8a" stroke-width="0.55"/>
<line x1="418.00" x2="419.40" y1="116.90" y2="116.90" stroke="#8a8a8a" stroke-width="0.55"/>
<line x1="418.00" x2="419.40" y1="116.08" y2="116.08" stroke="#8a8a8a" stroke-width="0.55"/>
<line x1="418.00" x2="419.40" y1="115.35" y2="115.35" stroke="#8a8a8a" stroke-width="0.55"/>
<line x1="418.00" x2="419.40" y1="110.43" y2="110.43" stroke="#8a8a8a" stroke-width="0.55"/>
<line x1="418.00" x2="419.40" y1="152.00" y2="152.00" stroke="#777" stroke-width="0.55"/>
<line x1="418.00" x2="419.40" y1="156.00" y2="156.00" stroke="#777" stroke-width="0.55"/>
<line x1="418.00" x2="419.40" y1="160.50" y2="160.50" stroke="#777" stroke-width="0.55"/>
<line x1="418.00" x2="419.40" y1="166.80" y2="166.80" stroke="#777" stroke-width="0.55"/>
<line x1="418.00" x2="419.40" y1="168.30" y2="168.30" stroke="#777" stroke-width="0.55"/>
<line x1="418.00" x2="419.40" y1="169.70" y2="169.70" stroke="#777" stroke-width="0.55"/>
<line x1="417.40" x2="419.50" y1="114.70" y2="114.70" stroke="#222" stroke-width="0.8"/>
<text x="412.00" y="116.70" font-size="5.6" text-anchor="end" fill="#222" stroke="#222" stroke-width="0.07" >10</text>
<text x="412.10" y="114.60" font-size="4.2" text-anchor="start" fill="#222" stroke="#222" stroke-width="0.07" >5</text>
<line x1="417.40" x2="419.50" y1="128.90" y2="128.90" stroke="#222" stroke-width="0.8"/>
<text x="412.00" y="130.90" font-size="5.6" text-anchor="end" fill="#222" stroke="#222" stroke-width="0.07" >10</text>
<text x="412.10" y="128.80" font-size="4.2" text-anchor="start" fill="#222" stroke="#222" stroke-width="0.07" >4</text>
<line x1="417.40" x2="419.50" y1="144.70" y2="144.70" stroke="#222" stroke-width="0.8"/>
<text x="412.00" y="146.70" font-size="5.6" text-anchor="end" fill="#222" stroke="#222" stroke-width="0.07" >10</text>
<text x="412.10" y="144.60" font-size="4.2" text-anchor="start" fill="#222" stroke="#222" stroke-width="0.07" >3</text>
<line x1="417.40" x2="419.50" y1="164.50" y2="164.50" stroke="#222" stroke-width="0.8"/>
<circle cx="419.00" cy="164.50" r="0.9" fill="#000"/>
<text x="412.80" y="166.50" font-size="5.6" text-anchor="middle" fill="#222" stroke="#222" stroke-width="0.07" >0</text>
<line x1="453.32" x2="453.32" y1="173.20" y2="174.70" stroke="#8a8a8a" stroke-width="0.55"/>
<line x1="455.96" x2="455.96" y1="173.20" y2="174.70" stroke="#8a8a8a" stroke-width="0.55"/>
<line x1="457.83" x2="457.83" y1="173.20" y2="174.70" stroke="#8a8a8a" stroke-width="0.55"/>
<line x1="459.28" x2="459.28" y1="173.20" y2="174.70" stroke="#8a8a8a" stroke-width="0.55"/>
<line x1="460.47" x2="460.47" y1="173.20" y2="174.70" stroke="#8a8a8a" stroke-width="0.55"/>
<line x1="461.48" x2="461.48" y1="173.20" y2="174.70" stroke="#8a8a8a" stroke-width="0.55"/>
<line x1="462.35" x2="462.35" y1="173.20" y2="174.70" stroke="#8a8a8a" stroke-width="0.55"/>
<line x1="463.11" x2="463.11" y1="173.20" y2="174.70" stroke="#8a8a8a" stroke-width="0.55"/>
<line x1="468.26" x2="468.26" y1="173.20" y2="174.70" stroke="#8a8a8a" stroke-width="0.55"/>
<line x1="470.86" x2="470.86" y1="173.20" y2="174.70" stroke="#8a8a8a" stroke-width="0.55"/>
<line x1="472.71" x2="472.71" y1="173.20" y2="174.70" stroke="#8a8a8a" stroke-width="0.55"/>
<line x1="474.14" x2="474.14" y1="173.20" y2="174.70" stroke="#8a8a8a" stroke-width="0.55"/>
<line x1="475.32" x2="475.32" y1="173.20" y2="174.70" stroke="#8a8a8a" stroke-width="0.55"/>
<line x1="476.31" x2="476.31" y1="173.20" y2="174.70" stroke="#8a8a8a" stroke-width="0.55"/>
<line x1="477.17" x2="477.17" y1="173.20" y2="174.70" stroke="#8a8a8a" stroke-width="0.55"/>
<line x1="477.92" x2="477.92" y1="173.20" y2="174.70" stroke="#8a8a8a" stroke-width="0.55"/>
<line x1="432.00" x2="432.00" y1="173.20" y2="174.70" stroke="#888" stroke-width="0.55"/>
<line x1="436.00" x2="436.00" y1="173.20" y2="174.70" stroke="#888" stroke-width="0.55"/>
<line x1="440.50" x2="440.50" y1="173.20" y2="174.70" stroke="#888" stroke-width="0.55"/>
<line x1="444.00" x2="444.00" y1="173.20" y2="174.70" stroke="#888" stroke-width="0.55"/>
<line x1="423.50" x2="423.50" y1="173.20" y2="174.70" stroke="#888" stroke-width="0.55"/>
<line x1="421.00" x2="421.00" y1="173.20" y2="174.70" stroke="#888" stroke-width="0.55"/>
<line x1="448.80" x2="448.80" y1="173.00" y2="175.00" stroke="#222" stroke-width="0.8"/>
<text x="450.70" y="182.00" font-size="5.6" text-anchor="end" fill="#222" stroke="#222" stroke-width="0.07" >10</text>
<text x="450.90" y="179.50" font-size="4.2" text-anchor="start" fill="#222" stroke="#222" stroke-width="0.07" >3</text>
<line x1="463.80" x2="463.80" y1="173.00" y2="175.00" stroke="#222" stroke-width="0.8"/>
<text x="465.70" y="182.00" font-size="5.6" text-anchor="end" fill="#222" stroke="#222" stroke-width="0.07" >10</text>
<text x="465.90" y="179.50" font-size="4.2" text-anchor="start" fill="#222" stroke="#222" stroke-width="0.07" >4</text>
<line x1="478.60" x2="478.60" y1="173.00" y2="175.00" stroke="#222" stroke-width="0.8"/>
<text x="480.50" y="182.00" font-size="5.6" text-anchor="end" fill="#222" stroke="#222" stroke-width="0.07" >10</text>
<text x="480.70" y="179.50" font-size="4.2" text-anchor="start" fill="#222" stroke="#222" stroke-width="0.07" >5</text>
<text x="426.50" y="182.00" font-size="5.6" text-anchor="middle" fill="#222" stroke="#222" stroke-width="0.07" >0</text>
<ellipse cx="420.10" cy="173.80" rx="1.08" ry="0.68" fill="#111" opacity="0.85"/>
<ellipse cx="422.80" cy="173.80" rx="1.02" ry="0.64" fill="#111" opacity="0.8"/>
<ellipse cx="426.50" cy="173.80" rx="1.56" ry="0.98" fill="#111" opacity="1.0"/>
<ellipse cx="430.00" cy="173.80" rx="1.08" ry="0.68" fill="#111" opacity="0.8"/>
<ellipse cx="432.90" cy="173.80" rx="1.08" ry="0.68" fill="#111" opacity="0.8"/>
<rect x="356.6" y="40.5" width="23.80" height="26.20" fill="none" stroke="#3a3a3a" stroke-width="0.65"/>
<text x="367.50" y="38.90" font-size="4.4" text-anchor="middle" fill="#3a3a3a" textLength="12.4" lengthAdjust="spacingAndGlyphs" >0.88%</text>
<rect x="442.5" y="40.4" width="25.00" height="26.00" fill="none" stroke="#3a3a3a" stroke-width="0.65"/>
<text x="454.00" y="38.80" font-size="4.4" text-anchor="middle" fill="#3a3a3a" textLength="12.4" lengthAdjust="spacingAndGlyphs" >1.72%</text>
<rect x="359.0" y="121.7" width="26.20" height="27.80" fill="none" stroke="#3a3a3a" stroke-width="0.65"/>
<text x="371.10" y="120.10" font-size="4.4" text-anchor="middle" fill="#3a3a3a" textLength="12.4" lengthAdjust="spacingAndGlyphs" >1.42%</text>
<rect x="444.5" y="123.6" width="26.20" height="27.70" fill="none" stroke="#3a3a3a" stroke-width="0.65"/>
<text x="456.60" y="122.00" font-size="4.4" text-anchor="middle" fill="#3a3a3a" textLength="12.4" lengthAdjust="spacingAndGlyphs" >7.66%</text>
<path d="M359.64 76.30 C359.94 75.28 361.02 74.57 361.80 73.90 C362.58 73.23 363.42 72.70 364.30 72.30 C365.18 71.90 365.92 71.57 367.10 71.50 C368.28 71.43 370.08 71.78 371.40 71.90 C372.72 72.02 373.97 71.88 375.00 72.20 C376.03 72.52 377.33 73.13 377.60 73.80 C377.87 74.47 377.23 75.40 376.60 76.20 C375.97 77.00 375.02 77.90 373.80 78.60 C372.58 79.30 370.88 79.88 369.30 80.40 C367.72 80.92 365.62 81.20 364.30 81.70 C362.98 82.20 362.12 83.68 361.40 83.40 C360.68 83.12 360.29 81.18 360.00 80.00 C359.71 78.82 359.34 77.32 359.64 76.30 Z" fill="#a2a2a2" stroke="#1a1a1a" stroke-width="0.8"/>
<path d="M360.85 76.34 C361.11 75.47 362.04 74.85 362.71 74.28 C363.38 73.70 364.10 73.25 364.86 72.90 C365.62 72.56 366.25 72.27 367.27 72.21 C368.29 72.16 369.83 72.46 370.97 72.56 C372.10 72.66 373.17 72.54 374.06 72.82 C374.95 73.09 376.07 73.62 376.30 74.19 C376.53 74.77 375.98 75.57 375.44 76.26 C374.89 76.94 374.08 77.72 373.03 78.32 C371.98 78.92 370.52 79.42 369.16 79.87 C367.80 80.31 365.99 80.56 364.86 80.99 C363.73 81.42 362.98 82.69 362.37 82.45 C361.75 82.20 361.41 80.54 361.16 79.52 C360.91 78.51 360.59 77.22 360.85 76.34 Z" fill="none" stroke="#f0f0f0" stroke-width="0.45"/>
<path d="M361.89 76.38 C362.11 75.63 362.92 75.10 363.49 74.60 C364.06 74.11 364.69 73.71 365.34 73.42 C365.99 73.12 366.54 72.88 367.41 72.83 C368.29 72.78 369.62 73.04 370.59 73.12 C371.57 73.21 372.49 73.11 373.26 73.34 C374.02 73.58 374.98 74.03 375.18 74.53 C375.38 75.02 374.91 75.71 374.44 76.30 C373.97 76.90 373.27 77.56 372.37 78.08 C371.47 78.60 370.21 79.03 369.04 79.41 C367.87 79.79 366.31 80.00 365.34 80.37 C364.37 80.74 363.72 81.84 363.19 81.63 C362.66 81.42 362.38 79.99 362.16 79.12 C361.94 78.24 361.67 77.13 361.89 76.38 Z" fill="#8e8e8e" stroke="#1a1a1a" stroke-width="0.6"/>
<path d="M363.45 76.43 C363.62 75.86 364.23 75.46 364.66 75.09 C365.09 74.71 365.57 74.42 366.06 74.19 C366.55 73.97 366.97 73.78 367.63 73.74 C368.29 73.71 369.30 73.90 370.04 73.97 C370.77 74.03 371.47 73.96 372.05 74.14 C372.63 74.31 373.36 74.66 373.51 75.03 C373.66 75.41 373.30 75.93 372.95 76.38 C372.59 76.82 372.06 77.33 371.38 77.72 C370.70 78.11 369.75 78.44 368.86 78.73 C367.97 79.02 366.80 79.18 366.06 79.46 C365.32 79.74 364.84 80.57 364.44 80.41 C364.03 80.25 363.82 79.17 363.65 78.50 C363.49 77.84 363.28 77.00 363.45 76.43 Z" fill="none" stroke="#e0e0e0" stroke-width="0.45"/>
<path d="M364.66 76.47 C364.79 76.05 365.24 75.75 365.57 75.47 C365.90 75.19 366.25 74.96 366.62 74.79 C366.99 74.63 367.30 74.49 367.80 74.46 C368.29 74.43 369.05 74.58 369.60 74.63 C370.15 74.68 370.68 74.62 371.11 74.75 C371.55 74.88 372.09 75.14 372.21 75.42 C372.32 75.70 372.05 76.10 371.79 76.43 C371.52 76.77 371.12 77.15 370.61 77.44 C370.10 77.73 369.39 77.98 368.72 78.20 C368.06 78.41 367.17 78.53 366.62 78.74 C366.07 78.95 365.70 79.58 365.40 79.46 C365.10 79.34 364.94 78.52 364.81 78.03 C364.69 77.53 364.54 76.90 364.66 76.47 Z" fill="#7a7a7a" stroke="#222" stroke-width="0.6"/>
<path d="M366.39 76.53 C366.46 76.31 366.70 76.15 366.87 76.01 C367.04 75.86 367.23 75.74 367.42 75.65 C367.61 75.57 367.78 75.49 368.04 75.48 C368.30 75.46 368.69 75.54 368.98 75.57 C369.27 75.59 369.55 75.56 369.77 75.63 C370.00 75.70 370.29 75.84 370.35 75.98 C370.40 76.13 370.27 76.34 370.13 76.51 C369.99 76.69 369.78 76.89 369.51 77.04 C369.24 77.19 368.87 77.32 368.52 77.44 C368.17 77.55 367.71 77.61 367.42 77.72 C367.13 77.83 366.94 78.16 366.78 78.10 C366.62 78.03 366.54 77.61 366.47 77.35 C366.41 77.09 366.33 76.76 366.39 76.53 Z" fill="none" stroke="#e8e8e8" stroke-width="0.5"/>
<circle cx="366.10" cy="77.20" r="0.65" fill="#111"/>
<circle cx="371.90" cy="75.30" r="0.6" fill="#111"/>
<circle cx="369.30" cy="78.20" r="0.5" fill="#222"/>
<circle cx="362.80" cy="78.80" r="0.5" fill="#222"/>
<circle cx="374.80" cy="74.40" r="0.5" fill="#222"/>
<circle cx="367.70" cy="76.20" r="0.55" fill="#fff"/>
<circle cx="370.50" cy="76.90" r="0.5" fill="#f4f4f4"/>
<circle cx="364.30" cy="75.80" r="0.45" fill="#f0f0f0"/>
<path d="M360.6 81.5 L362.6 82.5 L361.0 84.6 Z" fill="#111"/>
<path d="M445.40 73.80 C446.03 72.60 447.37 71.47 449.00 70.80 C450.63 70.13 453.20 69.77 455.20 69.80 C457.20 69.83 459.43 70.18 461.00 71.00 C462.57 71.82 464.02 73.45 464.60 74.70 C465.18 75.95 464.88 77.30 464.50 78.50 C464.12 79.70 463.38 81.05 462.30 81.90 C461.22 82.75 459.33 83.23 458.00 83.60 C456.67 83.97 455.72 84.12 454.30 84.10 C452.88 84.08 450.77 83.87 449.50 83.50 C448.23 83.13 447.42 82.82 446.70 81.90 C445.98 80.98 445.42 79.35 445.20 78.00 C444.98 76.65 444.77 75.00 445.40 73.80 Z" fill="#fbfbfb" stroke="#2a2a2a" stroke-width="0.5"/>
<path d="M446.17 74.06 C446.75 72.95 447.98 71.91 449.48 71.30 C450.98 70.68 453.34 70.35 455.18 70.38 C457.02 70.41 459.08 70.73 460.52 71.48 C461.96 72.23 463.30 73.73 463.83 74.88 C464.37 76.03 464.09 77.28 463.74 78.38 C463.39 79.48 462.71 80.73 461.72 81.51 C460.72 82.29 458.99 82.73 457.76 83.07 C456.53 83.41 455.66 83.55 454.36 83.53 C453.05 83.52 451.11 83.32 449.94 82.98 C448.77 82.64 448.02 82.35 447.36 81.51 C446.70 80.66 446.18 79.16 445.98 77.92 C445.78 76.68 445.59 75.16 446.17 74.06 Z" fill="none" stroke="#333" stroke-width="0.45"/>
<path d="M446.94 74.31 C447.47 73.30 448.59 72.35 449.96 71.79 C451.33 71.23 453.49 70.92 455.17 70.95 C456.85 70.98 458.72 71.27 460.04 71.96 C461.36 72.65 462.57 74.02 463.06 75.07 C463.55 76.12 463.30 77.25 462.98 78.26 C462.66 79.27 462.04 80.40 461.13 81.12 C460.22 81.83 458.64 82.24 457.52 82.54 C456.40 82.85 455.60 82.98 454.41 82.96 C453.22 82.95 451.44 82.77 450.38 82.46 C449.32 82.15 448.63 81.89 448.03 81.12 C447.43 80.35 446.95 78.97 446.77 77.84 C446.59 76.71 446.40 75.32 446.94 74.31 Z" fill="#f0f0f0" stroke="#555" stroke-width="0.4"/>
<path d="M448.47 74.82 C448.90 74.01 449.81 73.24 450.92 72.78 C452.03 72.33 453.78 72.08 455.14 72.10 C456.50 72.13 458.01 72.36 459.08 72.92 C460.15 73.48 461.13 74.59 461.53 75.44 C461.92 76.29 461.72 77.20 461.46 78.02 C461.20 78.84 460.70 79.75 459.96 80.33 C459.23 80.91 457.95 81.24 457.04 81.49 C456.13 81.74 455.49 81.84 454.52 81.83 C453.56 81.82 452.12 81.67 451.26 81.42 C450.40 81.17 449.84 80.96 449.36 80.33 C448.87 79.71 448.48 78.60 448.34 77.68 C448.19 76.76 448.04 75.64 448.47 74.82 Z" fill="#a0a0a0" stroke="#111" stroke-width="0.85"/>
<path d="M450.20 75.40 C450.52 74.80 451.18 74.23 452.00 73.90 C452.82 73.57 454.10 73.38 455.10 73.40 C456.10 73.42 457.22 73.59 458.00 74.00 C458.78 74.41 459.51 75.22 459.80 75.85 C460.09 76.47 459.94 77.15 459.75 77.75 C459.56 78.35 459.19 79.03 458.65 79.45 C458.11 79.88 457.17 80.12 456.50 80.30 C455.83 80.48 455.36 80.56 454.65 80.55 C453.94 80.54 452.88 80.43 452.25 80.25 C451.62 80.07 451.21 79.91 450.85 79.45 C450.49 78.99 450.21 78.17 450.10 77.50 C449.99 76.83 449.88 76.00 450.20 75.40 Z" fill="#8c8c8c" stroke="#333" stroke-width="0.5"/>
<path d="M451.74 75.91 C451.95 75.50 452.40 75.12 452.96 74.89 C453.52 74.67 454.39 74.54 455.07 74.55 C455.75 74.56 456.51 74.68 457.04 74.96 C457.57 75.24 458.07 75.79 458.26 76.22 C458.46 76.64 458.36 77.10 458.23 77.51 C458.10 77.92 457.85 78.38 457.48 78.67 C457.11 78.95 456.47 79.12 456.02 79.24 C455.57 79.37 455.24 79.42 454.76 79.41 C454.28 79.41 453.56 79.33 453.13 79.21 C452.70 79.09 452.42 78.98 452.18 78.67 C451.93 78.35 451.74 77.80 451.67 77.34 C451.59 76.88 451.52 76.32 451.74 75.91 Z" fill="#7a7a7a" stroke="#222" stroke-width="0.5"/>
<ellipse cx="456.6" cy="77.1" rx="1.6" ry="1.0" fill="#111"/><circle cx="453.3" cy="76.6" r="0.8" fill="#eee"/>
<path d="M447.3 82.6 L450.6 83.6 L449.2 86.9 Z" fill="#111"/>
<ellipse cx="454.2" cy="56.6" rx="1.9" ry="0.95" fill="#111" transform="rotate(-12 454.2 56.6)"/>
<circle cx="449.2" cy="91.4" r="1.1" fill="#111"/>
<path d="M359.30 158.90 C359.37 157.27 361.32 155.58 362.60 154.60 C363.88 153.62 365.42 153.37 367.00 153.00 C368.58 152.63 370.43 152.33 372.10 152.40 C373.77 152.47 375.68 152.80 377.00 153.40 C378.32 154.00 379.38 154.97 380.00 156.00 C380.62 157.03 380.83 158.27 380.70 159.60 C380.57 160.93 380.07 162.73 379.20 164.00 C378.33 165.27 376.80 166.47 375.50 167.20 C374.20 167.93 372.90 168.38 371.40 168.40 C369.90 168.42 368.03 167.97 366.50 167.30 C364.97 166.63 363.40 165.80 362.20 164.40 C361.00 163.00 359.23 160.53 359.30 158.90 Z" fill="#fbfbfb" stroke="#000" stroke-width="1.15"/>
<path d="M360.35 159.00 C360.41 157.51 362.19 155.98 363.36 155.09 C364.52 154.19 365.92 153.96 367.36 153.63 C368.80 153.30 370.48 153.02 372.00 153.08 C373.52 153.14 375.26 153.45 376.46 153.99 C377.66 154.54 378.63 155.42 379.19 156.36 C379.75 157.30 379.95 158.42 379.83 159.64 C379.71 160.85 379.25 162.49 378.46 163.64 C377.67 164.79 376.28 165.88 375.10 166.55 C373.91 167.22 372.73 167.63 371.36 167.64 C370.00 167.66 368.30 167.25 366.90 166.64 C365.51 166.04 364.08 165.28 362.99 164.00 C361.90 162.73 360.29 160.49 360.35 159.00 Z" fill="none" stroke="#111" stroke-width="0.85"/>
<path d="M361.29 159.09 C361.34 157.73 362.96 156.33 364.03 155.52 C365.09 154.70 366.37 154.49 367.68 154.19 C368.99 153.89 370.53 153.64 371.91 153.69 C373.30 153.75 374.89 154.02 375.98 154.52 C377.07 155.02 377.96 155.82 378.47 156.68 C378.98 157.54 379.16 158.56 379.05 159.67 C378.94 160.77 378.53 162.27 377.81 163.32 C377.09 164.37 375.81 165.37 374.74 165.98 C373.66 166.58 372.58 166.96 371.33 166.97 C370.09 166.99 368.54 166.61 367.26 166.06 C365.99 165.51 364.69 164.81 363.70 163.65 C362.70 162.49 361.23 160.44 361.29 159.09 Z" fill="#efefef" stroke="#555" stroke-width="0.4"/>
<ellipse cx="372.4" cy="159.9" rx="5.6" ry="4.2" fill="#cfcfcf" stroke="#111" stroke-width="1.0"/>
<ellipse cx="372.4" cy="159.9" rx="4.70" ry="3.53" fill="none" stroke="#f2f2f2" stroke-width="0.5"/>
<ellipse cx="372.4" cy="159.9" rx="3.81" ry="2.86" fill="#b6b6b6" stroke="#3a3a3a" stroke-width="0.5"/>
<ellipse cx="372.4" cy="159.9" rx="2.58" ry="1.93" fill="#a4a4a4" stroke="#333" stroke-width="0.5"/>
<ellipse cx="372.4" cy="159.9" rx="1.46" ry="1.09" fill="#959595" stroke="#444" stroke-width="0.4"/>
<circle cx="372.60" cy="159.90" r="0.8" fill="#000"/>
<path d="M367.80 137.40 C368.10 137.60 368.25 138.15 368.10 138.90 C367.95 139.65 367.35 141.00 366.90 141.90 C366.45 142.80 365.88 143.80 365.40 144.30 C364.92 144.80 364.43 145.05 364.00 144.90 C363.57 144.75 363.03 144.05 362.80 143.40 C362.57 142.75 362.45 141.65 362.60 141.00 C362.75 140.35 363.08 140.05 363.70 139.50 C364.32 138.95 365.62 138.05 366.30 137.70 C366.98 137.35 367.50 137.20 367.80 137.40 Z" fill="#000"/>
<path d="M447.90 155.60 C448.70 154.62 450.48 154.05 452.00 153.60 C453.52 153.15 455.25 152.93 457.00 152.90 C458.75 152.87 460.65 153.08 462.50 153.40 C464.35 153.72 466.92 153.87 468.10 154.80 C469.28 155.73 469.70 157.63 469.60 159.00 C469.50 160.37 468.28 161.90 467.50 163.00 C466.72 164.10 465.98 164.80 464.90 165.60 C463.82 166.40 462.10 167.30 461.00 167.80 C459.90 168.30 459.47 168.73 458.30 168.60 C457.13 168.47 455.52 167.83 454.00 167.00 C452.48 166.17 450.33 164.85 449.20 163.60 C448.07 162.35 447.42 160.83 447.20 159.50 C446.98 158.17 447.10 156.58 447.90 155.60 Z" fill="#fbfbfb" stroke="#000" stroke-width="1.15"/>
<path d="M448.85 156.04 C449.58 155.15 451.20 154.63 452.58 154.22 C453.97 153.81 455.54 153.61 457.13 153.58 C458.73 153.55 460.46 153.75 462.14 154.04 C463.82 154.33 466.16 154.46 467.24 155.31 C468.31 156.16 468.69 157.89 468.60 159.13 C468.51 160.38 467.40 161.77 466.69 162.78 C465.98 163.78 465.31 164.41 464.32 165.14 C463.34 165.87 461.78 166.69 460.77 167.14 C459.77 167.60 459.38 167.99 458.32 167.87 C457.26 167.75 455.79 167.17 454.40 166.41 C453.02 165.66 451.07 164.46 450.04 163.32 C449.01 162.18 448.41 160.80 448.22 159.59 C448.02 158.38 448.13 156.94 448.85 156.04 Z" fill="none" stroke="#111" stroke-width="0.85"/>
<path d="M449.70 156.43 C450.37 155.62 451.85 155.15 453.11 154.77 C454.36 154.40 455.80 154.22 457.25 154.19 C458.71 154.16 460.28 154.34 461.82 154.61 C463.36 154.87 465.49 154.99 466.47 155.77 C467.45 156.54 467.80 158.12 467.71 159.25 C467.63 160.39 466.62 161.66 465.97 162.57 C465.32 163.49 464.71 164.07 463.81 164.73 C462.91 165.40 461.49 166.14 460.57 166.56 C459.66 166.97 459.30 167.33 458.33 167.22 C457.37 167.11 456.02 166.59 454.76 165.90 C453.51 165.20 451.72 164.11 450.78 163.07 C449.84 162.04 449.30 160.78 449.12 159.67 C448.94 158.56 449.04 157.25 449.70 156.43 Z" fill="#efefef" stroke="#555" stroke-width="0.4"/>
<ellipse cx="459.3" cy="160.2" rx="6.4" ry="4.8" fill="#cfcfcf" stroke="#111" stroke-width="1.0"/>
<ellipse cx="459.3" cy="160.2" rx="5.38" ry="4.03" fill="none" stroke="#f2f2f2" stroke-width="0.5"/>
<ellipse cx="459.3" cy="160.2" rx="4.35" ry="3.26" fill="#b6b6b6" stroke="#3a3a3a" stroke-width="0.5"/>
<ellipse cx="459.3" cy="160.2" rx="2.94" ry="2.21" fill="#a4a4a4" stroke="#333" stroke-width="0.5"/>
<ellipse cx="459.3" cy="160.2" rx="1.66" ry="1.25" fill="#959595" stroke="#444" stroke-width="0.4"/>
<circle cx="459.50" cy="160.20" r="0.8" fill="#000"/>
<defs><radialGradient id="rg1" cx="0.55" cy="0.45" r="0.6"><stop offset="0" stop-color="#707070"/><stop offset="0.45" stop-color="#b4b4b4"/><stop offset="0.75" stop-color="#f4f4f4"/><stop offset="1" stop-color="#ffffff"/></radialGradient></defs>
<path d="M458.70 133.50 C459.28 134.17 458.47 136.52 457.90 138.30 C457.33 140.08 456.22 142.53 455.30 144.20 C454.38 145.87 453.32 147.52 452.40 148.30 C451.48 149.08 450.60 149.23 449.80 148.90 C449.00 148.57 448.03 147.50 447.60 146.30 C447.17 145.10 446.83 143.15 447.20 141.70 C447.57 140.25 448.60 138.83 449.80 137.60 C451.00 136.37 452.92 134.98 454.40 134.30 C455.88 133.62 458.12 132.83 458.70 133.50 Z" fill="url(#rg1)" stroke="#000" stroke-width="1.4"/>
<line x1="44.2" x2="44.2" y1="236.2" y2="290.80" stroke="#0a0a0a" stroke-width="1.15"/>
<line x1="43.70" x2="120.6" y1="290.3" y2="290.3" stroke="#0a0a0a" stroke-width="1.15"/>
<line x1="41.00" x2="44.2" y1="239.6" y2="239.6" stroke="#111" stroke-width="1.1"/>
<text x="36.60" y="241.60" font-size="5.7" text-anchor="end" fill="#2a2a2a" stroke="#2a2a2a" stroke-width="0.03" >15</text>
<line x1="41.00" x2="44.2" y1="256.5" y2="256.5" stroke="#111" stroke-width="1.1"/>
<text x="36.60" y="258.50" font-size="5.7" text-anchor="end" fill="#2a2a2a" stroke="#2a2a2a" stroke-width="0.03" >10</text>
<line x1="41.00" x2="44.2" y1="273.4" y2="273.4" stroke="#111" stroke-width="1.1"/>
<text x="36.60" y="275.40" font-size="5.7" text-anchor="end" fill="#2a2a2a" stroke="#2a2a2a" stroke-width="0.03" >5</text>
<line x1="41.00" x2="44.2" y1="290.3" y2="290.3" stroke="#111" stroke-width="1.1"/>
<text x="36.60" y="292.30" font-size="5.7" text-anchor="end" fill="#2a2a2a" stroke="#2a2a2a" stroke-width="0.03" >0</text>
<rect x="55.0" y="282.3" width="21.80" height="8.00" fill="#a6022a"/>
<line x1="65.90" x2="65.90" y1="276.9" y2="282.3" stroke="#111" stroke-width="1.05"/>
<line x1="60.70" x2="71.10" y1="276.9" y2="276.9" stroke="#111" stroke-width="1.1"/>
<line x1="65.90" x2="65.90" y1="290.3" y2="292.70" stroke="#222" stroke-width="0.8"/>
<rect x="87.9" y="259.5" width="21.60" height="30.80" fill="#2c4a80"/>
<line x1="98.70" x2="98.70" y1="255.1" y2="259.5" stroke="#111" stroke-width="1.05"/>
<line x1="93.50" x2="103.90" y1="255.1" y2="255.1" stroke="#111" stroke-width="1.1"/>
<line x1="98.70" x2="98.70" y1="290.3" y2="292.70" stroke="#222" stroke-width="0.8"/>
<path d="M67.1 248.80 V247.1 H98.9 V248.80" fill="none" stroke="#111" stroke-width="0.9"/>
<text x="83.00" y="243.30" font-size="4.6" text-anchor="middle" fill="#222" stroke="#222" stroke-width="0.07" textLength="13.8" lengthAdjust="spacingAndGlyphs" >p=0.01</text>
<text x="82.20" y="225.60" font-size="7.8" text-anchor="middle" fill="#111" stroke="#111" stroke-width="0.07" textLength="23.2" lengthAdjust="spacingAndGlyphs" >Spleen</text>
<text x="0" y="0" font-size="6.4" text-anchor="middle" fill="#111" stroke="#111" stroke-width="0.1" textLength="34.6" lengthAdjust="spacingAndGlyphs" transform="translate(24.7 261.0) rotate(-90)">% of tet<tspan font-size="4" dy="-2.2">+</tspan><tspan dy="2.2">TCRβ</tspan><tspan font-size="4" dy="-2.2">+</tspan></text>
<text x="0" y="0" font-size="5.4" text-anchor="end" fill="#222" textLength="25.5" lengthAdjust="spacingAndGlyphs" transform="translate(67.80 298.2) rotate(-45)">Allogeneic</text>
<text x="0" y="0" font-size="5.4" text-anchor="end" fill="#222" textLength="25.0" lengthAdjust="spacingAndGlyphs" transform="translate(100.20 298.2) rotate(-45)">Syngeneic</text>
<line x1="168.6" x2="168.6" y1="236.2" y2="290.70" stroke="#0a0a0a" stroke-width="1.15"/>
<line x1="168.10" x2="245.0" y1="290.2" y2="290.2" stroke="#0a0a0a" stroke-width="1.15"/>
<line x1="165.40" x2="168.6" y1="239.7" y2="239.7" stroke="#111" stroke-width="1.1"/>
<text x="162.20" y="241.70" font-size="5.7" text-anchor="end" fill="#2a2a2a" stroke="#2a2a2a" stroke-width="0.03" >2.5x10<tspan font-size="4" dy="-2.1">7</tspan></text>
<line x1="165.40" x2="168.6" y1="249.8" y2="249.8" stroke="#111" stroke-width="1.1"/>
<text x="162.20" y="251.80" font-size="5.7" text-anchor="end" fill="#2a2a2a" stroke="#2a2a2a" stroke-width="0.03" >2.0x10<tspan font-size="4" dy="-2.1">7</tspan></text>
<line x1="165.40" x2="168.6" y1="259.9" y2="259.9" stroke="#111" stroke-width="1.1"/>
<text x="162.20" y="261.90" font-size="5.7" text-anchor="end" fill="#2a2a2a" stroke="#2a2a2a" stroke-width="0.03" >1.5x10<tspan font-size="4" dy="-2.1">7</tspan></text>
<line x1="165.40" x2="168.6" y1="270.0" y2="270.0" stroke="#111" stroke-width="1.1"/>
<text x="162.20" y="272.00" font-size="5.7" text-anchor="end" fill="#2a2a2a" stroke="#2a2a2a" stroke-width="0.03" >1.0x10<tspan font-size="4" dy="-2.1">7</tspan></text>
<line x1="165.40" x2="168.6" y1="280.1" y2="280.1" stroke="#111" stroke-width="1.1"/>
<text x="162.20" y="282.10" font-size="5.7" text-anchor="end" fill="#2a2a2a" stroke="#2a2a2a" stroke-width="0.03" >5.0x10<tspan font-size="4" dy="-2.1">6</tspan></text>
<line x1="165.40" x2="168.6" y1="290.2" y2="290.2" stroke="#111" stroke-width="1.1"/>
<text x="162.20" y="292.20" font-size="5.7" text-anchor="end" fill="#2a2a2a" stroke="#2a2a2a" stroke-width="0.03" >0.0</text>
<rect x="179.4" y="280.6" width="21.80" height="9.60" fill="#a6022a"/>
<line x1="190.30" x2="190.30" y1="274.4" y2="280.6" stroke="#111" stroke-width="1.05"/>
<line x1="185.10" x2="195.50" y1="274.4" y2="274.4" stroke="#111" stroke-width="1.1"/>
<line x1="190.30" x2="190.30" y1="290.2" y2="292.60" stroke="#222" stroke-width="0.8"/>
<rect x="212.7" y="255.4" width="21.30" height="34.80" fill="#2c4a80"/>
<line x1="223.35" x2="223.35" y1="250.4" y2="255.4" stroke="#111" stroke-width="1.05"/>
<line x1="218.15" x2="228.55" y1="250.4" y2="250.4" stroke="#111" stroke-width="1.1"/>
<line x1="223.35" x2="223.35" y1="290.2" y2="292.60" stroke="#222" stroke-width="0.8"/>
<path d="M190.8 240.00 V238.3 H223.7 V240.00" fill="none" stroke="#111" stroke-width="0.9"/>
<text x="207.25" y="234.50" font-size="4.6" text-anchor="middle" fill="#222" stroke="#222" stroke-width="0.07" textLength="15.6" lengthAdjust="spacingAndGlyphs" >p=0.016</text>
<text x="206.70" y="225.60" font-size="7.8" text-anchor="middle" fill="#111" stroke="#111" stroke-width="0.07" textLength="23.2" lengthAdjust="spacingAndGlyphs" >Spleen</text>
<text x="0" y="0" font-size="6.4" text-anchor="middle" fill="#111" stroke="#111" stroke-width="0.1" textLength="36.9" lengthAdjust="spacingAndGlyphs" transform="translate(136.6 262.5) rotate(-90)"># of tet<tspan font-size="4" dy="-2.2">+</tspan><tspan dy="2.2">TCRβ</tspan><tspan font-size="4" dy="-2.2">+</tspan></text>
<text x="0" y="0" font-size="5.4" text-anchor="end" fill="#222" textLength="25.5" lengthAdjust="spacingAndGlyphs" transform="translate(192.20 298.2) rotate(-45)">Allogeneic</text>
<text x="0" y="0" font-size="5.4" text-anchor="end" fill="#222" textLength="25.0" lengthAdjust="spacingAndGlyphs" transform="translate(225.30 298.2) rotate(-45)">Syngeneic</text>
<line x1="291.6" x2="291.6" y1="238.9" y2="290.50" stroke="#0a0a0a" stroke-width="1.15"/>
<line x1="291.10" x2="360.0" y1="290.0" y2="290.0" stroke="#0a0a0a" stroke-width="1.15"/>
<line x1="288.40" x2="291.6" y1="241.8" y2="241.8" stroke="#111" stroke-width="1.1"/>
<text x="285.40" y="243.80" font-size="5.7" text-anchor="end" fill="#2a2a2a" stroke="#2a2a2a" stroke-width="0.03" >2.0</text>
<line x1="288.40" x2="291.6" y1="253.8" y2="253.8" stroke="#111" stroke-width="1.1"/>
<text x="285.40" y="255.80" font-size="5.7" text-anchor="end" fill="#2a2a2a" stroke="#2a2a2a" stroke-width="0.03" >1.5</text>
<line x1="288.40" x2="291.6" y1="265.9" y2="265.9" stroke="#111" stroke-width="1.1"/>
<text x="285.40" y="267.90" font-size="5.7" text-anchor="end" fill="#2a2a2a" stroke="#2a2a2a" stroke-width="0.03" >1.0</text>
<line x1="288.40" x2="291.6" y1="277.9" y2="277.9" stroke="#111" stroke-width="1.1"/>
<text x="285.40" y="279.90" font-size="5.7" text-anchor="end" fill="#2a2a2a" stroke="#2a2a2a" stroke-width="0.03" >0.5</text>
<line x1="288.40" x2="291.6" y1="290.0" y2="290.0" stroke="#111" stroke-width="1.1"/>
<text x="285.40" y="292.00" font-size="5.7" text-anchor="end" fill="#2a2a2a" stroke="#2a2a2a" stroke-width="0.03" >0.0</text>
<rect x="301.4" y="285.2" width="20.90" height="4.80" fill="#a6022a"/>
<line x1="311.85" x2="311.85" y1="279.3" y2="285.2" stroke="#111" stroke-width="1.05"/>
<line x1="306.65" x2="317.05" y1="279.3" y2="279.3" stroke="#111" stroke-width="1.1"/>
<line x1="311.85" x2="311.85" y1="290.0" y2="292.40" stroke="#222" stroke-width="0.8"/>
<rect x="333.0" y="260.9" width="20.60" height="29.10" fill="#2c4a80"/>
<line x1="343.30" x2="343.30" y1="254.3" y2="260.9" stroke="#111" stroke-width="1.05"/>
<line x1="338.10" x2="348.50" y1="254.3" y2="254.3" stroke="#111" stroke-width="1.1"/>
<line x1="343.30" x2="343.30" y1="290.0" y2="292.40" stroke="#222" stroke-width="0.8"/>
<path d="M312.9 250.60 V248.9 H343.4 V250.60" fill="none" stroke="#111" stroke-width="0.9"/>
<text x="328.15" y="245.10" font-size="4.6" text-anchor="middle" fill="#222" stroke="#222" stroke-width="0.07" textLength="14.3" lengthAdjust="spacingAndGlyphs" >p=0.02</text>
<text x="328.10" y="225.60" font-size="7.8" text-anchor="middle" fill="#111" stroke="#111" stroke-width="0.07" textLength="13.2" lengthAdjust="spacingAndGlyphs" >Gut</text>
<text x="0" y="0" font-size="6.4" text-anchor="middle" fill="#111" stroke="#111" stroke-width="0.1" textLength="38.0" lengthAdjust="spacingAndGlyphs" transform="translate(271.1 264.7) rotate(-90)">% of tet<tspan font-size="4" dy="-2.2">+</tspan><tspan dy="2.2">TCRβ</tspan><tspan font-size="4" dy="-2.2">+</tspan></text>
<text x="0" y="0" font-size="5.4" text-anchor="end" fill="#222" textLength="42.8" lengthAdjust="spacingAndGlyphs" transform="translate(313.60 298.2) rotate(-45)">Allogeneic T cells</text>
<text x="0" y="0" font-size="5.4" text-anchor="end" fill="#222" textLength="43.0" lengthAdjust="spacingAndGlyphs" transform="translate(345.00 298.2) rotate(-45)">Syngeneic T cells</text>
<line x1="412.3" x2="412.3" y1="239.4" y2="290.80" stroke="#0a0a0a" stroke-width="1.15"/>
<line x1="411.80" x2="485.7" y1="290.3" y2="290.3" stroke="#0a0a0a" stroke-width="1.15"/>
<line x1="409.10" x2="412.3" y1="241.9" y2="241.9" stroke="#111" stroke-width="1.1"/>
<text x="406.20" y="243.90" font-size="5.7" text-anchor="end" fill="#2a2a2a" stroke="#2a2a2a" stroke-width="0.03" >800000</text>
<line x1="409.10" x2="412.3" y1="254.0" y2="254.0" stroke="#111" stroke-width="1.1"/>
<text x="406.20" y="256.00" font-size="5.7" text-anchor="end" fill="#2a2a2a" stroke="#2a2a2a" stroke-width="0.03" >600000</text>
<line x1="409.10" x2="412.3" y1="266.1" y2="266.1" stroke="#111" stroke-width="1.1"/>
<text x="406.20" y="268.10" font-size="5.7" text-anchor="end" fill="#2a2a2a" stroke="#2a2a2a" stroke-width="0.03" >400000</text>
<line x1="409.10" x2="412.3" y1="278.2" y2="278.2" stroke="#111" stroke-width="1.1"/>
<text x="406.20" y="280.20" font-size="5.7" text-anchor="end" fill="#2a2a2a" stroke="#2a2a2a" stroke-width="0.03" >200000</text>
<line x1="409.10" x2="412.3" y1="290.3" y2="290.3" stroke="#111" stroke-width="1.1"/>
<text x="406.20" y="292.30" font-size="5.7" text-anchor="end" fill="#2a2a2a" stroke="#2a2a2a" stroke-width="0.03" >0</text>
<rect x="428.0" y="289.1" width="11.00" height="1.20" fill="#2a2a2a"/>
<line x1="433.50" x2="433.50" y1="290.3" y2="292.70" stroke="#222" stroke-width="0.8"/>
<rect x="453.9" y="253.5" width="21.10" height="36.80" fill="#2c4a80"/>
<line x1="464.45" x2="464.45" y1="246.8" y2="253.5" stroke="#111" stroke-width="1.05"/>
<line x1="459.25" x2="469.65" y1="246.8" y2="246.8" stroke="#111" stroke-width="1.1"/>
<line x1="464.45" x2="464.45" y1="290.3" y2="292.70" stroke="#222" stroke-width="0.8"/>
<path d="M434.5 242.70 V241.0 H464.5 V242.70" fill="none" stroke="#111" stroke-width="0.9"/>
<text x="449.50" y="237.20" font-size="4.6" text-anchor="middle" fill="#222" stroke="#222" stroke-width="0.07" textLength="16.2" lengthAdjust="spacingAndGlyphs" >p=0.001</text>
<text x="449.20" y="225.60" font-size="7.8" text-anchor="middle" fill="#111" stroke="#111" stroke-width="0.07" textLength="13.2" lengthAdjust="spacingAndGlyphs" >Gut</text>
<text x="0" y="0" font-size="6.4" text-anchor="middle" fill="#111" stroke="#111" stroke-width="0.1" textLength="37.2" lengthAdjust="spacingAndGlyphs" transform="translate(379.8 264.3) rotate(-90)"># of tet<tspan font-size="4" dy="-2.2">+</tspan><tspan dy="2.2">TCRβ</tspan><tspan font-size="4" dy="-2.2">+</tspan></text>
<text x="0" y="0" font-size="5.4" text-anchor="end" fill="#222" textLength="42.8" lengthAdjust="spacingAndGlyphs" transform="translate(435.60 298.2) rotate(-45)">Allogeneic T cells</text>
<text x="0" y="0" font-size="5.4" text-anchor="end" fill="#222" textLength="43.0" lengthAdjust="spacingAndGlyphs" transform="translate(466.40 298.2) rotate(-45)">Syngeneic T cells</text>
</svg>
</body></html>
